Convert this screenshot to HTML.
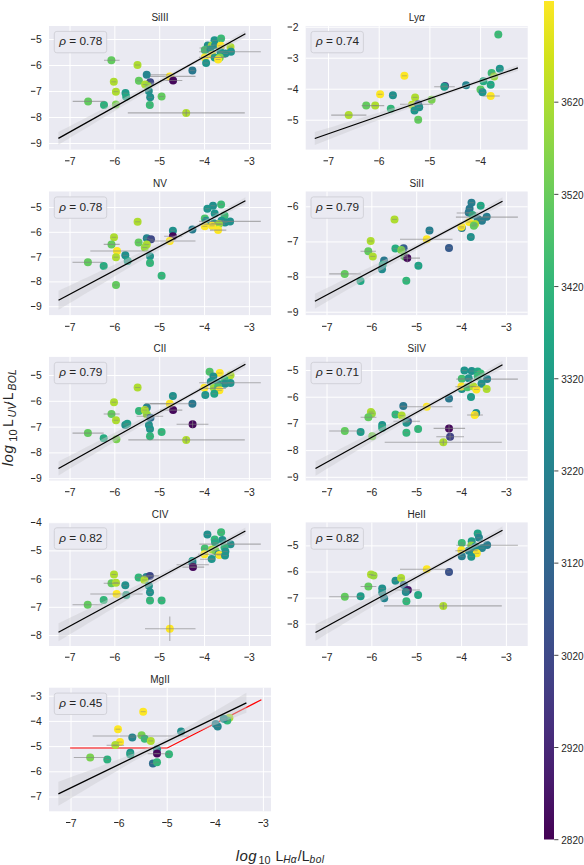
<!DOCTYPE html>
<html><head><meta charset="utf-8"><style>
html,body{margin:0;padding:0;background:#fff;}
body{width:584px;height:865px;position:relative;overflow:hidden;}
svg{font-family:"Liberation Sans", sans-serif;fill:#262626;font-size:11px;}
</style></head><body>
<svg width="584" height="865" viewBox="0 0 584 865" style="position:absolute;left:0;top:0"><defs><linearGradient id="cb" x1="0" y1="1" x2="0" y2="0"><stop offset="0.0000" stop-color="#440154"/><stop offset="0.0667" stop-color="#481a6c"/><stop offset="0.1333" stop-color="#472f7d"/><stop offset="0.2000" stop-color="#414487"/><stop offset="0.2667" stop-color="#39568c"/><stop offset="0.3333" stop-color="#31688e"/><stop offset="0.4000" stop-color="#2a788e"/><stop offset="0.4667" stop-color="#23888e"/><stop offset="0.5333" stop-color="#1f988b"/><stop offset="0.6000" stop-color="#22a884"/><stop offset="0.6667" stop-color="#35b779"/><stop offset="0.7333" stop-color="#54c568"/><stop offset="0.8000" stop-color="#7ad151"/><stop offset="0.8667" stop-color="#a5db36"/><stop offset="0.9333" stop-color="#d2e21b"/><stop offset="1.0000" stop-color="#fde725"/></linearGradient><clipPath id="clip0"><rect x="49" y="26" width="222" height="123.6"/></clipPath><clipPath id="clip1"><rect x="305.7" y="26" width="222" height="123.6"/></clipPath><clipPath id="clip2"><rect x="49" y="191.5" width="222" height="123.6"/></clipPath><clipPath id="clip3"><rect x="305.7" y="191.5" width="222" height="123.6"/></clipPath><clipPath id="clip4"><rect x="49" y="356.9" width="222" height="123.6"/></clipPath><clipPath id="clip5"><rect x="305.7" y="356.9" width="222" height="123.6"/></clipPath><clipPath id="clip6"><rect x="49" y="522.4" width="222" height="123.6"/></clipPath><clipPath id="clip7"><rect x="305.7" y="522.4" width="222" height="123.6"/></clipPath><clipPath id="clip8"><rect x="49" y="687.7" width="222" height="123.6"/></clipPath></defs><rect x="49" y="26" width="222" height="123.6" fill="#eaeaf2"/><text x="69.65" y="165" font-size="10.4">7</text><rect x="65" y="160.3" width="4.5" height="1" fill="#262626"/><text x="114.5" y="165" font-size="10.4">6</text><rect x="109.85" y="160.3" width="4.5" height="1" fill="#262626"/><text x="159.35" y="165" font-size="10.4">5</text><rect x="154.7" y="160.3" width="4.5" height="1" fill="#262626"/><text x="204.2" y="165" font-size="10.4">4</text><rect x="199.55" y="160.3" width="4.5" height="1" fill="#262626"/><text x="249.05" y="165" font-size="10.4">3</text><rect x="244.4" y="160.3" width="4.5" height="1" fill="#262626"/><text x="41.8" y="42.9" text-anchor="end" font-size="10.4">5</text><rect x="30.9" y="38.8" width="4.5" height="1" fill="#262626"/><text x="41.8" y="68.9" text-anchor="end" font-size="10.4">6</text><rect x="30.9" y="64.8" width="4.5" height="1" fill="#262626"/><text x="41.8" y="94.9" text-anchor="end" font-size="10.4">7</text><rect x="30.9" y="90.8" width="4.5" height="1" fill="#262626"/><text x="41.8" y="120.9" text-anchor="end" font-size="10.4">8</text><rect x="30.9" y="116.8" width="4.5" height="1" fill="#262626"/><text x="41.8" y="146.9" text-anchor="end" font-size="10.4">9</text><rect x="30.9" y="142.8" width="4.5" height="1" fill="#262626"/><g stroke="#ffffff" stroke-width="1.0"><line x1="70" y1="26" x2="70" y2="149.6"/><line x1="114.85" y1="26" x2="114.85" y2="149.6"/><line x1="159.7" y1="26" x2="159.7" y2="149.6"/><line x1="204.55" y1="26" x2="204.55" y2="149.6"/><line x1="249.4" y1="26" x2="249.4" y2="149.6"/><line x1="49" y1="39.5" x2="271" y2="39.5"/><line x1="49" y1="65.5" x2="271" y2="65.5"/><line x1="49" y1="91.5" x2="271" y2="91.5"/><line x1="49" y1="117.5" x2="271" y2="117.5"/><line x1="49" y1="143.5" x2="271" y2="143.5"/></g><text x="160" y="21.4" text-anchor="middle" font-size="10">SiIII</text><g clip-path="url(#clip0)"><circle cx="111.4" cy="60.3" r="4" fill="#63ca5f"/><circle cx="137.5" cy="65" r="4" fill="#aedc31"/><circle cx="146.7" cy="74.7" r="4" fill="#25848e"/><circle cx="138.9" cy="80.8" r="4" fill="#63ca5f"/><circle cx="113.8" cy="81.8" r="4" fill="#aedc31"/><circle cx="150.2" cy="82.3" r="4" fill="#3f4988"/><circle cx="145.1" cy="84.5" r="4" fill="#aedc31"/><circle cx="147.7" cy="86" r="4" fill="#9ad83d"/><circle cx="115.9" cy="91.7" r="4" fill="#aedc31"/><circle cx="148.8" cy="91.1" r="4" fill="#21908c"/><circle cx="125.5" cy="93.1" r="4" fill="#209c89"/><circle cx="126.2" cy="96.8" r="4" fill="#22a884"/><circle cx="150.2" cy="97.3" r="4" fill="#21908c"/><circle cx="161.6" cy="96.5" r="4" fill="#63ca5f"/><circle cx="149.8" cy="105.1" r="4" fill="#3bba76"/><circle cx="88.1" cy="101.4" r="4" fill="#63ca5f"/><circle cx="104" cy="105.1" r="4" fill="#2db17d"/><circle cx="115.9" cy="104.4" r="4" fill="#7ad151"/><circle cx="186.2" cy="112.9" r="4" fill="#aedc31"/><circle cx="169.8" cy="76.4" r="4" fill="#fde725"/><circle cx="173.1" cy="80.5" r="4" fill="#45085b"/><circle cx="192.4" cy="70.6" r="4" fill="#2a788e"/><circle cx="214.5" cy="40.3" r="4" fill="#20958c"/><circle cx="221.1" cy="38.6" r="4" fill="#3bba76"/><circle cx="207.8" cy="45.4" r="4" fill="#21908c"/><circle cx="211.7" cy="45.8" r="4" fill="#9ad83d"/><circle cx="215.1" cy="45" r="4" fill="#21908c"/><circle cx="220.7" cy="45.8" r="4" fill="#fde725"/><circle cx="204.8" cy="50.1" r="4" fill="#44be70"/><circle cx="210.4" cy="49.7" r="4" fill="#20958c"/><circle cx="230.5" cy="47.1" r="4" fill="#aedc31"/><circle cx="231" cy="51.8" r="4" fill="#20958c"/><circle cx="225.4" cy="53.5" r="4" fill="#21908c"/><circle cx="220.7" cy="52.3" r="4" fill="#20958c"/><circle cx="204.8" cy="57.4" r="4" fill="#fde725"/><circle cx="212.1" cy="54.8" r="4" fill="#fde725"/><circle cx="214.7" cy="57.4" r="4" fill="#209c89"/><circle cx="219.8" cy="57.4" r="4" fill="#7ad151"/><circle cx="218.1" cy="59.5" r="4" fill="#fde725"/><circle cx="206.1" cy="63" r="4" fill="#20958c"/><line x1="104" y1="60.3" x2="119.6" y2="60.3" stroke="#808080" stroke-opacity="0.6" stroke-width="1.1"/><line x1="135" y1="65" x2="140" y2="65" stroke="#808080" stroke-opacity="0.55" stroke-width="0.9"/><line x1="149.8" y1="74.7" x2="175" y2="74.7" stroke="#808080" stroke-opacity="0.6" stroke-width="1.1"/><line x1="136.4" y1="80.8" x2="141.4" y2="80.8" stroke="#808080" stroke-opacity="0.55" stroke-width="0.9"/><line x1="111.3" y1="81.8" x2="116.3" y2="81.8" stroke="#808080" stroke-opacity="0.55" stroke-width="0.9"/><line x1="147.7" y1="82.3" x2="152.7" y2="82.3" stroke="#808080" stroke-opacity="0.55" stroke-width="0.9"/><line x1="142.6" y1="84.5" x2="147.6" y2="84.5" stroke="#808080" stroke-opacity="0.55" stroke-width="0.9"/><line x1="145.2" y1="86" x2="150.2" y2="86" stroke="#808080" stroke-opacity="0.55" stroke-width="0.9"/><line x1="113.4" y1="91.7" x2="118.4" y2="91.7" stroke="#808080" stroke-opacity="0.55" stroke-width="0.9"/><line x1="146.3" y1="91.1" x2="151.3" y2="91.1" stroke="#808080" stroke-opacity="0.55" stroke-width="0.9"/><line x1="123" y1="93.1" x2="128" y2="93.1" stroke="#808080" stroke-opacity="0.55" stroke-width="0.9"/><line x1="123.7" y1="96.8" x2="128.7" y2="96.8" stroke="#808080" stroke-opacity="0.55" stroke-width="0.9"/><line x1="147.7" y1="97.3" x2="152.7" y2="97.3" stroke="#808080" stroke-opacity="0.55" stroke-width="0.9"/><line x1="159.1" y1="96.5" x2="164.1" y2="96.5" stroke="#808080" stroke-opacity="0.55" stroke-width="0.9"/><line x1="147.3" y1="105.1" x2="152.3" y2="105.1" stroke="#808080" stroke-opacity="0.55" stroke-width="0.9"/><line x1="72.7" y1="101.4" x2="104.6" y2="101.4" stroke="#808080" stroke-opacity="0.6" stroke-width="1.1"/><line x1="101.5" y1="105.1" x2="106.5" y2="105.1" stroke="#808080" stroke-opacity="0.55" stroke-width="0.9"/><line x1="113.4" y1="104.4" x2="118.4" y2="104.4" stroke="#808080" stroke-opacity="0.55" stroke-width="0.9"/><line x1="127.8" y1="112.9" x2="244.8" y2="112.9" stroke="#808080" stroke-opacity="0.6" stroke-width="1.1"/><line x1="186.2" y1="109.9" x2="186.2" y2="115.9" stroke="#808080" stroke-opacity="0.6" stroke-width="1.1"/><line x1="150" y1="76.4" x2="195.5" y2="76.4" stroke="#808080" stroke-opacity="0.6" stroke-width="1.1"/><line x1="160" y1="80.5" x2="182.3" y2="80.5" stroke="#808080" stroke-opacity="0.6" stroke-width="1.1"/><line x1="189.9" y1="70.6" x2="194.9" y2="70.6" stroke="#808080" stroke-opacity="0.55" stroke-width="0.9"/><line x1="212" y1="40.3" x2="217" y2="40.3" stroke="#808080" stroke-opacity="0.55" stroke-width="0.9"/><line x1="218.6" y1="38.6" x2="223.6" y2="38.6" stroke="#808080" stroke-opacity="0.55" stroke-width="0.9"/><line x1="205.3" y1="45.4" x2="210.3" y2="45.4" stroke="#808080" stroke-opacity="0.55" stroke-width="0.9"/><line x1="209.2" y1="45.8" x2="214.2" y2="45.8" stroke="#808080" stroke-opacity="0.55" stroke-width="0.9"/><line x1="212.6" y1="45" x2="217.6" y2="45" stroke="#808080" stroke-opacity="0.55" stroke-width="0.9"/><line x1="218.2" y1="45.8" x2="223.2" y2="45.8" stroke="#808080" stroke-opacity="0.55" stroke-width="0.9"/><line x1="202.3" y1="50.1" x2="207.3" y2="50.1" stroke="#808080" stroke-opacity="0.55" stroke-width="0.9"/><line x1="207.9" y1="49.7" x2="212.9" y2="49.7" stroke="#808080" stroke-opacity="0.55" stroke-width="0.9"/><line x1="228" y1="47.1" x2="233" y2="47.1" stroke="#808080" stroke-opacity="0.55" stroke-width="0.9"/><line x1="228.5" y1="51.8" x2="233.5" y2="51.8" stroke="#808080" stroke-opacity="0.55" stroke-width="0.9"/><line x1="222.9" y1="53.5" x2="227.9" y2="53.5" stroke="#808080" stroke-opacity="0.55" stroke-width="0.9"/><line x1="218.2" y1="52.3" x2="223.2" y2="52.3" stroke="#808080" stroke-opacity="0.55" stroke-width="0.9"/><line x1="202.3" y1="57.4" x2="207.3" y2="57.4" stroke="#808080" stroke-opacity="0.55" stroke-width="0.9"/><line x1="209.6" y1="54.8" x2="214.6" y2="54.8" stroke="#808080" stroke-opacity="0.55" stroke-width="0.9"/><line x1="212.2" y1="57.4" x2="217.2" y2="57.4" stroke="#808080" stroke-opacity="0.55" stroke-width="0.9"/><line x1="217.3" y1="57.4" x2="222.3" y2="57.4" stroke="#808080" stroke-opacity="0.55" stroke-width="0.9"/><line x1="215.6" y1="59.5" x2="220.6" y2="59.5" stroke="#808080" stroke-opacity="0.55" stroke-width="0.9"/><line x1="203.6" y1="63" x2="208.6" y2="63" stroke="#808080" stroke-opacity="0.55" stroke-width="0.9"/><line x1="199.5" y1="48" x2="225" y2="48" stroke="#808080" stroke-opacity="0.6" stroke-width="1.1"/><line x1="198.9" y1="57.4" x2="225.9" y2="57.4" stroke="#808080" stroke-opacity="0.6" stroke-width="1.1"/><line x1="199.2" y1="51.7" x2="260.8" y2="51.7" stroke="#808080" stroke-opacity="0.6" stroke-width="1.1"/><polygon points="58.4,132 63.07,129.58 67.75,127.16 72.42,124.74 77.1,122.31 81.78,119.89 86.45,117.47 91.12,115.04 95.8,112.62 100.47,110.19 105.15,107.76 109.82,105.33 114.5,102.9 119.17,100.46 123.85,98.03 128.53,95.59 133.2,93.15 137.88,90.7 142.55,88.26 147.22,85.8 151.9,83.34 156.57,80.88 161.25,78.41 165.93,75.93 170.6,73.43 175.28,70.93 179.95,68.41 184.62,65.88 189.3,63.32 193.97,60.75 198.65,58.15 203.33,55.52 208,52.84 212.68,50.12 217.35,47.36 222.03,44.56 226.7,41.74 231.38,38.9 236.05,36.04 240.72,33.18 245.4,30.3 245.4,37.3 240.72,39.65 236.05,42.02 231.38,44.39 226.7,46.78 222.03,49.19 217.35,51.62 212.68,54.09 208,56.6 203.33,59.15 198.65,61.75 193.97,64.38 189.3,67.04 184.62,69.71 179.95,72.41 175.28,75.12 170.6,77.85 165.93,80.58 161.25,83.33 156.57,86.09 151.9,88.86 147.22,91.63 142.55,94.4 137.88,97.19 133.2,99.97 128.53,102.76 123.85,105.55 119.17,108.35 114.5,111.14 109.82,113.94 105.15,116.74 100.47,119.54 95.8,122.34 91.12,125.15 86.45,127.95 81.78,130.76 77.1,133.57 72.42,136.37 67.75,139.18 63.07,141.99 58.4,144.8" fill="#cdcdd0" fill-opacity="0.45"/><line x1="58.4" y1="138.4" x2="245.4" y2="33.8" stroke="#000" stroke-width="1.3"/></g><rect x="54.3" y="31.4" width="52.4" height="21.4" rx="2.5" fill="#eaeaf2" stroke="#cfcfd6" stroke-width="0.9"/><text x="59.2" y="45.2" font-size="11.8"><tspan font-style="italic">ρ</tspan> = 0.78</text><rect x="305.7" y="26" width="222" height="123.6" fill="#eaeaf2"/><text x="328.15" y="165" font-size="10.4">7</text><rect x="323.5" y="160.3" width="4.5" height="1" fill="#262626"/><text x="378.85" y="165" font-size="10.4">6</text><rect x="374.2" y="160.3" width="4.5" height="1" fill="#262626"/><text x="429.55" y="165" font-size="10.4">5</text><rect x="424.9" y="160.3" width="4.5" height="1" fill="#262626"/><text x="480.25" y="165" font-size="10.4">4</text><rect x="475.6" y="160.3" width="4.5" height="1" fill="#262626"/><text x="298.5" y="30.6" text-anchor="end" font-size="10.4">2</text><rect x="287.6" y="26.5" width="4.5" height="1" fill="#262626"/><text x="298.5" y="61.6" text-anchor="end" font-size="10.4">3</text><rect x="287.6" y="57.5" width="4.5" height="1" fill="#262626"/><text x="298.5" y="92.6" text-anchor="end" font-size="10.4">4</text><rect x="287.6" y="88.5" width="4.5" height="1" fill="#262626"/><text x="298.5" y="123.6" text-anchor="end" font-size="10.4">5</text><rect x="287.6" y="119.5" width="4.5" height="1" fill="#262626"/><g stroke="#ffffff" stroke-width="1.0"><line x1="328.5" y1="26" x2="328.5" y2="149.6"/><line x1="379.2" y1="26" x2="379.2" y2="149.6"/><line x1="429.9" y1="26" x2="429.9" y2="149.6"/><line x1="480.6" y1="26" x2="480.6" y2="149.6"/><line x1="305.7" y1="27.2" x2="527.7" y2="27.2"/><line x1="305.7" y1="58.2" x2="527.7" y2="58.2"/><line x1="305.7" y1="89.2" x2="527.7" y2="89.2"/><line x1="305.7" y1="120.2" x2="527.7" y2="120.2"/></g><text x="416.7" y="21.4" text-anchor="middle" font-size="10">Ly<tspan font-style="italic">α</tspan></text><g clip-path="url(#clip1)"><circle cx="404.4" cy="75.8" r="4" fill="#fde725"/><circle cx="380.1" cy="94.3" r="4" fill="#fde725"/><circle cx="392.9" cy="95.3" r="4" fill="#21908c"/><circle cx="415.1" cy="97.4" r="4" fill="#aedc31"/><circle cx="366.2" cy="105.6" r="4" fill="#63ca5f"/><circle cx="375.2" cy="105.6" r="4" fill="#aedc31"/><circle cx="390.8" cy="108.7" r="4" fill="#33b67a"/><circle cx="348.7" cy="115.1" r="4" fill="#aedc31"/><circle cx="412" cy="104.8" r="4" fill="#bcde28"/><circle cx="418.2" cy="104.2" r="4" fill="#3f4988"/><circle cx="419.2" cy="107.3" r="4" fill="#21908c"/><circle cx="414.5" cy="110.4" r="4" fill="#20958c"/><circle cx="418.2" cy="119.7" r="4" fill="#63ca5f"/><circle cx="498.3" cy="34.4" r="4" fill="#3bba76"/><circle cx="499.8" cy="68.7" r="4" fill="#20958c"/><circle cx="491.6" cy="73" r="4" fill="#3bba76"/><circle cx="494.2" cy="76.5" r="4" fill="#9ad83d"/><circle cx="483.4" cy="81.2" r="4" fill="#28ac81"/><circle cx="490.7" cy="84.7" r="4" fill="#22a884"/><circle cx="480.5" cy="89.4" r="4" fill="#5ec862"/><circle cx="482.5" cy="92.3" r="4" fill="#20958c"/><circle cx="490.7" cy="96" r="4" fill="#fde725"/><circle cx="466.1" cy="85.3" r="4" fill="#25848e"/><circle cx="445" cy="86" r="4" fill="#3f4988"/><circle cx="444.3" cy="86.8" r="4" fill="#209c89"/><circle cx="431.6" cy="99.7" r="4" fill="#7ad151"/><line x1="401.9" y1="75.8" x2="406.9" y2="75.8" stroke="#808080" stroke-opacity="0.55" stroke-width="0.9"/><line x1="377.6" y1="94.3" x2="382.6" y2="94.3" stroke="#808080" stroke-opacity="0.55" stroke-width="0.9"/><line x1="390.4" y1="95.3" x2="395.4" y2="95.3" stroke="#808080" stroke-opacity="0.55" stroke-width="0.9"/><line x1="412.6" y1="97.4" x2="417.6" y2="97.4" stroke="#808080" stroke-opacity="0.55" stroke-width="0.9"/><line x1="361.6" y1="105.6" x2="384.2" y2="105.6" stroke="#808080" stroke-opacity="0.6" stroke-width="1.1"/><line x1="372.7" y1="105.6" x2="377.7" y2="105.6" stroke="#808080" stroke-opacity="0.55" stroke-width="0.9"/><line x1="388.3" y1="108.7" x2="393.3" y2="108.7" stroke="#808080" stroke-opacity="0.55" stroke-width="0.9"/><line x1="331.2" y1="115.1" x2="366.4" y2="115.1" stroke="#808080" stroke-opacity="0.6" stroke-width="1.1"/><line x1="400" y1="104.2" x2="433" y2="104.2" stroke="#808080" stroke-opacity="0.6" stroke-width="1.1"/><line x1="409.5" y1="104.8" x2="414.5" y2="104.8" stroke="#808080" stroke-opacity="0.55" stroke-width="0.9"/><line x1="415.7" y1="104.2" x2="420.7" y2="104.2" stroke="#808080" stroke-opacity="0.55" stroke-width="0.9"/><line x1="416.7" y1="107.3" x2="421.7" y2="107.3" stroke="#808080" stroke-opacity="0.55" stroke-width="0.9"/><line x1="412" y1="110.4" x2="417" y2="110.4" stroke="#808080" stroke-opacity="0.55" stroke-width="0.9"/><line x1="415.7" y1="119.7" x2="420.7" y2="119.7" stroke="#808080" stroke-opacity="0.55" stroke-width="0.9"/><line x1="495.8" y1="34.4" x2="500.8" y2="34.4" stroke="#808080" stroke-opacity="0.55" stroke-width="0.9"/><line x1="497.3" y1="68.7" x2="502.3" y2="68.7" stroke="#808080" stroke-opacity="0.55" stroke-width="0.9"/><line x1="489.1" y1="73" x2="494.1" y2="73" stroke="#808080" stroke-opacity="0.55" stroke-width="0.9"/><line x1="491.7" y1="76.5" x2="496.7" y2="76.5" stroke="#808080" stroke-opacity="0.55" stroke-width="0.9"/><line x1="480.9" y1="81.2" x2="485.9" y2="81.2" stroke="#808080" stroke-opacity="0.55" stroke-width="0.9"/><line x1="488.2" y1="84.7" x2="493.2" y2="84.7" stroke="#808080" stroke-opacity="0.55" stroke-width="0.9"/><line x1="478" y1="89.4" x2="483" y2="89.4" stroke="#808080" stroke-opacity="0.55" stroke-width="0.9"/><line x1="480" y1="92.3" x2="485" y2="92.3" stroke="#808080" stroke-opacity="0.55" stroke-width="0.9"/><line x1="482.9" y1="96" x2="499.8" y2="96" stroke="#808080" stroke-opacity="0.6" stroke-width="1.1"/><line x1="463.6" y1="85.3" x2="468.6" y2="85.3" stroke="#808080" stroke-opacity="0.55" stroke-width="0.9"/><line x1="442.5" y1="86" x2="447.5" y2="86" stroke="#808080" stroke-opacity="0.55" stroke-width="0.9"/><line x1="434.2" y1="86.8" x2="454.8" y2="86.8" stroke="#808080" stroke-opacity="0.6" stroke-width="1.1"/><line x1="429.1" y1="99.7" x2="434.1" y2="99.7" stroke="#808080" stroke-opacity="0.55" stroke-width="0.9"/><polygon points="314.8,132.1 319.88,130.56 324.95,129.01 330.03,127.47 335.11,125.92 340.19,124.37 345.26,122.82 350.34,121.27 355.42,119.72 360.5,118.17 365.57,116.61 370.65,115.06 375.73,113.5 380.81,111.93 385.88,110.37 390.96,108.8 396.04,107.22 401.12,105.64 406.19,104.05 411.27,102.45 416.35,100.84 421.43,99.22 426.5,97.58 431.58,95.92 436.66,94.24 441.74,92.54 446.81,90.8 451.89,89.04 456.97,87.26 462.05,85.47 467.12,83.65 472.2,81.82 477.28,79.98 482.36,78.12 487.43,76.26 492.51,74.38 497.59,72.5 502.67,70.61 507.75,68.71 512.82,66.81 517.9,64.9 517.9,70.9 512.82,72.52 507.75,74.15 502.67,75.78 497.59,77.42 492.51,79.07 487.43,80.72 482.36,82.39 477.28,84.06 472.2,85.75 467.12,87.45 462.05,89.16 456.97,90.9 451.89,92.65 446.81,94.42 441.74,96.21 436.66,98.04 431.58,99.89 426.5,101.76 421.43,103.65 416.35,105.56 411.27,107.48 406.19,109.41 401.12,111.35 396.04,113.3 390.96,115.25 385.88,117.21 380.81,119.18 375.73,121.14 370.65,123.11 365.57,125.09 360.5,127.06 355.42,129.04 350.34,131.02 345.26,133 340.19,134.98 335.11,136.96 330.03,138.94 324.95,140.93 319.88,142.91 314.8,144.9" fill="#cdcdd0" fill-opacity="0.45"/><line x1="314.8" y1="138.5" x2="517.9" y2="67.9" stroke="#000" stroke-width="1.3"/></g><rect x="311" y="31.4" width="52.4" height="21.4" rx="2.5" fill="#eaeaf2" stroke="#cfcfd6" stroke-width="0.9"/><text x="315.9" y="45.2" font-size="11.8"><tspan font-style="italic">ρ</tspan> = 0.74</text><rect x="49" y="191.5" width="222" height="123.6" fill="#eaeaf2"/><text x="69.65" y="330.5" font-size="10.4">7</text><rect x="65" y="325.8" width="4.5" height="1" fill="#262626"/><text x="114.5" y="330.5" font-size="10.4">6</text><rect x="109.85" y="325.8" width="4.5" height="1" fill="#262626"/><text x="159.35" y="330.5" font-size="10.4">5</text><rect x="154.7" y="325.8" width="4.5" height="1" fill="#262626"/><text x="204.2" y="330.5" font-size="10.4">4</text><rect x="199.55" y="325.8" width="4.5" height="1" fill="#262626"/><text x="249.05" y="330.5" font-size="10.4">3</text><rect x="244.4" y="325.8" width="4.5" height="1" fill="#262626"/><text x="41.8" y="210.9" text-anchor="end" font-size="10.4">5</text><rect x="30.9" y="206.8" width="4.5" height="1" fill="#262626"/><text x="41.8" y="235.7" text-anchor="end" font-size="10.4">6</text><rect x="30.9" y="231.6" width="4.5" height="1" fill="#262626"/><text x="41.8" y="260.5" text-anchor="end" font-size="10.4">7</text><rect x="30.9" y="256.4" width="4.5" height="1" fill="#262626"/><text x="41.8" y="285.3" text-anchor="end" font-size="10.4">8</text><rect x="30.9" y="281.2" width="4.5" height="1" fill="#262626"/><text x="41.8" y="310.1" text-anchor="end" font-size="10.4">9</text><rect x="30.9" y="306" width="4.5" height="1" fill="#262626"/><g stroke="#ffffff" stroke-width="1.0"><line x1="70" y1="191.5" x2="70" y2="315.1"/><line x1="114.85" y1="191.5" x2="114.85" y2="315.1"/><line x1="159.7" y1="191.5" x2="159.7" y2="315.1"/><line x1="204.55" y1="191.5" x2="204.55" y2="315.1"/><line x1="249.4" y1="191.5" x2="249.4" y2="315.1"/><line x1="49" y1="207.5" x2="271" y2="207.5"/><line x1="49" y1="232.3" x2="271" y2="232.3"/><line x1="49" y1="257.1" x2="271" y2="257.1"/><line x1="49" y1="281.9" x2="271" y2="281.9"/><line x1="49" y1="306.7" x2="271" y2="306.7"/></g><text x="160" y="186.9" text-anchor="middle" font-size="10">NV</text><g clip-path="url(#clip2)"><circle cx="137.6" cy="221.8" r="4" fill="#aedc31"/><circle cx="114" cy="237.3" r="4" fill="#aedc31"/><circle cx="111.5" cy="244.4" r="4" fill="#63ca5f"/><circle cx="117" cy="251" r="4" fill="#fde725"/><circle cx="116" cy="257.2" r="4" fill="#aedc31"/><circle cx="125.3" cy="255.3" r="4" fill="#21908c"/><circle cx="127.7" cy="260.9" r="4" fill="#21a386"/><circle cx="87.9" cy="262.3" r="4" fill="#63ca5f"/><circle cx="103.7" cy="266" r="4" fill="#28ac81"/><circle cx="138.6" cy="242.4" r="4" fill="#63ca5f"/><circle cx="146.8" cy="238.3" r="4" fill="#25848e"/><circle cx="151" cy="239.3" r="4" fill="#3f4988"/><circle cx="146.8" cy="244.4" r="4" fill="#aedc31"/><circle cx="144.8" cy="247.5" r="4" fill="#9ad83d"/><circle cx="150" cy="256.2" r="4" fill="#20958c"/><circle cx="150" cy="263" r="4" fill="#33b67a"/><circle cx="116" cy="285" r="4" fill="#63ca5f"/><circle cx="161.6" cy="275.7" r="4" fill="#33b67a"/><circle cx="172.9" cy="230.7" r="4" fill="#21908c"/><circle cx="172.9" cy="236.2" r="4" fill="#45085b"/><circle cx="169.8" cy="241" r="4" fill="#fde725"/><circle cx="192.4" cy="229.4" r="4" fill="#287d8e"/><circle cx="221.1" cy="204.4" r="4" fill="#3bba76"/><circle cx="213" cy="205.7" r="4" fill="#21908c"/><circle cx="207.4" cy="208.7" r="4" fill="#20958c"/><circle cx="214.7" cy="213.4" r="4" fill="#20958c"/><circle cx="224.5" cy="215.5" r="4" fill="#3bba76"/><circle cx="204.8" cy="218.5" r="4" fill="#4ec26b"/><circle cx="206.1" cy="220.7" r="4" fill="#20958c"/><circle cx="221.5" cy="220.7" r="4" fill="#20958c"/><circle cx="225" cy="222.4" r="4" fill="#21908c"/><circle cx="230.1" cy="221.5" r="4" fill="#21908c"/><circle cx="213.8" cy="223.3" r="4" fill="#20958c"/><circle cx="219" cy="224.1" r="4" fill="#9ad83d"/><circle cx="204.8" cy="226.3" r="4" fill="#fde725"/><circle cx="212.1" cy="225.8" r="4" fill="#fde725"/><circle cx="218.1" cy="230.1" r="4" fill="#fde725"/><line x1="135.1" y1="221.8" x2="140.1" y2="221.8" stroke="#808080" stroke-opacity="0.55" stroke-width="0.9"/><line x1="111.5" y1="237.3" x2="116.5" y2="237.3" stroke="#808080" stroke-opacity="0.55" stroke-width="0.9"/><line x1="103.7" y1="244.4" x2="119.7" y2="244.4" stroke="#808080" stroke-opacity="0.6" stroke-width="1.1"/><line x1="90.3" y1="251" x2="150" y2="251" stroke="#808080" stroke-opacity="0.6" stroke-width="1.1"/><line x1="113.5" y1="257.2" x2="118.5" y2="257.2" stroke="#808080" stroke-opacity="0.55" stroke-width="0.9"/><line x1="122.8" y1="255.3" x2="127.8" y2="255.3" stroke="#808080" stroke-opacity="0.55" stroke-width="0.9"/><line x1="125.2" y1="260.9" x2="130.2" y2="260.9" stroke="#808080" stroke-opacity="0.55" stroke-width="0.9"/><line x1="72.5" y1="262.3" x2="102.7" y2="262.3" stroke="#808080" stroke-opacity="0.6" stroke-width="1.1"/><line x1="101.2" y1="266" x2="106.2" y2="266" stroke="#808080" stroke-opacity="0.55" stroke-width="0.9"/><line x1="136.1" y1="242.4" x2="141.1" y2="242.4" stroke="#808080" stroke-opacity="0.55" stroke-width="0.9"/><line x1="144.3" y1="238.3" x2="149.3" y2="238.3" stroke="#808080" stroke-opacity="0.55" stroke-width="0.9"/><line x1="148.5" y1="239.3" x2="153.5" y2="239.3" stroke="#808080" stroke-opacity="0.55" stroke-width="0.9"/><line x1="144.3" y1="244.4" x2="149.3" y2="244.4" stroke="#808080" stroke-opacity="0.55" stroke-width="0.9"/><line x1="142.3" y1="247.5" x2="147.3" y2="247.5" stroke="#808080" stroke-opacity="0.55" stroke-width="0.9"/><line x1="147.5" y1="256.2" x2="152.5" y2="256.2" stroke="#808080" stroke-opacity="0.55" stroke-width="0.9"/><line x1="147.5" y1="263" x2="152.5" y2="263" stroke="#808080" stroke-opacity="0.55" stroke-width="0.9"/><line x1="113.5" y1="285" x2="118.5" y2="285" stroke="#808080" stroke-opacity="0.55" stroke-width="0.9"/><line x1="159.1" y1="275.7" x2="164.1" y2="275.7" stroke="#808080" stroke-opacity="0.55" stroke-width="0.9"/><line x1="170.4" y1="230.7" x2="175.4" y2="230.7" stroke="#808080" stroke-opacity="0.55" stroke-width="0.9"/><line x1="164.2" y1="236.2" x2="182.3" y2="236.2" stroke="#808080" stroke-opacity="0.6" stroke-width="1.1"/><line x1="150" y1="241" x2="195.5" y2="241" stroke="#808080" stroke-opacity="0.6" stroke-width="1.1"/><line x1="189.9" y1="229.4" x2="194.9" y2="229.4" stroke="#808080" stroke-opacity="0.55" stroke-width="0.9"/><line x1="218.6" y1="204.4" x2="223.6" y2="204.4" stroke="#808080" stroke-opacity="0.55" stroke-width="0.9"/><line x1="210.5" y1="205.7" x2="215.5" y2="205.7" stroke="#808080" stroke-opacity="0.55" stroke-width="0.9"/><line x1="204.9" y1="208.7" x2="209.9" y2="208.7" stroke="#808080" stroke-opacity="0.55" stroke-width="0.9"/><line x1="212.2" y1="213.4" x2="217.2" y2="213.4" stroke="#808080" stroke-opacity="0.55" stroke-width="0.9"/><line x1="222" y1="215.5" x2="227" y2="215.5" stroke="#808080" stroke-opacity="0.55" stroke-width="0.9"/><line x1="202.3" y1="218.5" x2="207.3" y2="218.5" stroke="#808080" stroke-opacity="0.55" stroke-width="0.9"/><line x1="203.6" y1="220.7" x2="208.6" y2="220.7" stroke="#808080" stroke-opacity="0.55" stroke-width="0.9"/><line x1="219" y1="220.7" x2="224" y2="220.7" stroke="#808080" stroke-opacity="0.55" stroke-width="0.9"/><line x1="222.5" y1="222.4" x2="227.5" y2="222.4" stroke="#808080" stroke-opacity="0.55" stroke-width="0.9"/><line x1="227.6" y1="221.5" x2="232.6" y2="221.5" stroke="#808080" stroke-opacity="0.55" stroke-width="0.9"/><line x1="211.3" y1="223.3" x2="216.3" y2="223.3" stroke="#808080" stroke-opacity="0.55" stroke-width="0.9"/><line x1="216.5" y1="224.1" x2="221.5" y2="224.1" stroke="#808080" stroke-opacity="0.55" stroke-width="0.9"/><line x1="202.3" y1="226.3" x2="207.3" y2="226.3" stroke="#808080" stroke-opacity="0.55" stroke-width="0.9"/><line x1="209.6" y1="225.8" x2="214.6" y2="225.8" stroke="#808080" stroke-opacity="0.55" stroke-width="0.9"/><line x1="210" y1="230.1" x2="226.3" y2="230.1" stroke="#808080" stroke-opacity="0.6" stroke-width="1.1"/><line x1="199.3" y1="224.1" x2="225" y2="224.1" stroke="#808080" stroke-opacity="0.6" stroke-width="1.1"/><line x1="199.2" y1="221.4" x2="260.8" y2="221.4" stroke="#808080" stroke-opacity="0.6" stroke-width="1.1"/><polygon points="58.5,290.8 63.17,288.61 67.84,286.42 72.52,284.23 77.19,282.04 81.86,279.84 86.53,277.65 91.21,275.45 95.88,273.26 100.55,271.06 105.22,268.87 109.9,266.67 114.57,264.47 119.24,262.26 123.91,260.06 128.59,257.85 133.26,255.64 137.93,253.43 142.61,251.21 147.28,248.99 151.95,246.77 156.62,244.53 161.3,242.29 165.97,240.03 170.64,237.76 175.31,235.48 179.99,233.17 184.66,230.83 189.33,228.46 194,226.05 198.68,223.6 203.35,221.1 208.02,218.56 212.69,215.97 217.37,213.36 222.04,210.71 226.71,208.04 231.38,205.35 236.06,202.65 240.73,199.93 245.4,197.2 245.4,204.2 240.73,206.45 236.06,208.71 231.38,210.99 226.71,213.28 222.04,215.59 217.37,217.92 212.69,220.29 208.02,222.68 203.35,225.12 198.68,227.6 194,230.13 189.33,232.7 184.66,235.31 179.99,237.95 175.31,240.62 170.64,243.32 165.97,246.03 161.3,248.75 156.62,251.49 151.95,254.23 147.28,256.99 142.61,259.75 137.93,262.51 133.26,265.28 128.59,268.05 123.91,270.82 119.24,273.6 114.57,276.37 109.9,279.15 105.22,281.93 100.55,284.72 95.88,287.5 91.21,290.29 86.53,293.07 81.86,295.86 77.19,298.64 72.52,301.43 67.84,304.22 63.17,307.01 58.5,309.8" fill="#cdcdd0" fill-opacity="0.45"/><line x1="58.5" y1="300.3" x2="245.4" y2="200.7" stroke="#000" stroke-width="1.3"/></g><rect x="54.3" y="196.9" width="52.4" height="21.4" rx="2.5" fill="#eaeaf2" stroke="#cfcfd6" stroke-width="0.9"/><text x="59.2" y="210.7" font-size="11.8"><tspan font-style="italic">ρ</tspan> = 0.78</text><rect x="305.7" y="191.5" width="222" height="123.6" fill="#eaeaf2"/><text x="326.65" y="330.5" font-size="10.4">7</text><rect x="322" y="325.8" width="4.5" height="1" fill="#262626"/><text x="371.5" y="330.5" font-size="10.4">6</text><rect x="366.85" y="325.8" width="4.5" height="1" fill="#262626"/><text x="416.35" y="330.5" font-size="10.4">5</text><rect x="411.7" y="325.8" width="4.5" height="1" fill="#262626"/><text x="461.2" y="330.5" font-size="10.4">4</text><rect x="456.55" y="325.8" width="4.5" height="1" fill="#262626"/><text x="506.05" y="330.5" font-size="10.4">3</text><rect x="501.4" y="325.8" width="4.5" height="1" fill="#262626"/><text x="298.5" y="210.2" text-anchor="end" font-size="10.4">6</text><rect x="287.6" y="206.1" width="4.5" height="1" fill="#262626"/><text x="298.5" y="245.33" text-anchor="end" font-size="10.4">7</text><rect x="287.6" y="241.23" width="4.5" height="1" fill="#262626"/><text x="298.5" y="280.46" text-anchor="end" font-size="10.4">8</text><rect x="287.6" y="276.36" width="4.5" height="1" fill="#262626"/><text x="298.5" y="315.59" text-anchor="end" font-size="10.4">9</text><rect x="287.6" y="311.49" width="4.5" height="1" fill="#262626"/><g stroke="#ffffff" stroke-width="1.0"><line x1="327" y1="191.5" x2="327" y2="315.1"/><line x1="371.85" y1="191.5" x2="371.85" y2="315.1"/><line x1="416.7" y1="191.5" x2="416.7" y2="315.1"/><line x1="461.55" y1="191.5" x2="461.55" y2="315.1"/><line x1="506.4" y1="191.5" x2="506.4" y2="315.1"/><line x1="305.7" y1="206.8" x2="527.7" y2="206.8"/><line x1="305.7" y1="241.93" x2="527.7" y2="241.93"/><line x1="305.7" y1="277.06" x2="527.7" y2="277.06"/><line x1="305.7" y1="312.19" x2="527.7" y2="312.19"/></g><text x="416.7" y="186.9" text-anchor="middle" font-size="10">SiII</text><g clip-path="url(#clip3)"><circle cx="394.5" cy="219.4" r="4" fill="#aedc31"/><circle cx="370.7" cy="241" r="4" fill="#aedc31"/><circle cx="368.3" cy="251.3" r="4" fill="#63ca5f"/><circle cx="372.8" cy="256.4" r="4" fill="#aedc31"/><circle cx="395.4" cy="248.6" r="4" fill="#28ac81"/><circle cx="403.6" cy="248.2" r="4" fill="#355f8d"/><circle cx="401.2" cy="249.9" r="4" fill="#7ad151"/><circle cx="404.7" cy="256.4" r="4" fill="#5ec862"/><circle cx="407.3" cy="258.1" r="4" fill="#45085b"/><circle cx="384.1" cy="260.5" r="4" fill="#2a788e"/><circle cx="382.7" cy="264.7" r="4" fill="#21a386"/><circle cx="382" cy="269.2" r="4" fill="#228b8d"/><circle cx="344.7" cy="273.9" r="4" fill="#63ca5f"/><circle cx="360.5" cy="281.1" r="4" fill="#22a884"/><circle cx="418.4" cy="265.7" r="4" fill="#21a386"/><circle cx="406.3" cy="280.7" r="4" fill="#33b67a"/><circle cx="471.5" cy="202.7" r="4" fill="#287d8e"/><circle cx="480.7" cy="205.7" r="4" fill="#22a884"/><circle cx="469.6" cy="208.7" r="4" fill="#2a788e"/><circle cx="468.7" cy="212.6" r="4" fill="#2a788e"/><circle cx="472.5" cy="215.1" r="4" fill="#28ac81"/><circle cx="486.7" cy="216.8" r="4" fill="#287d8e"/><circle cx="477.7" cy="219" r="4" fill="#287d8e"/><circle cx="482" cy="220.7" r="4" fill="#287d8e"/><circle cx="461.8" cy="228" r="4" fill="#2a788e"/><circle cx="461.4" cy="226.7" r="4" fill="#fde725"/><circle cx="469.1" cy="222" r="4" fill="#fde725"/><circle cx="475.1" cy="224.1" r="4" fill="#bcde28"/><circle cx="473.8" cy="225.8" r="4" fill="#63ca5f"/><circle cx="470.8" cy="237" r="4" fill="#21908c"/><circle cx="429.5" cy="230.5" r="4" fill="#287d8e"/><circle cx="426.8" cy="239.3" r="4" fill="#fde725"/><circle cx="449" cy="247.9" r="4" fill="#375a8c"/><line x1="392" y1="219.4" x2="397" y2="219.4" stroke="#808080" stroke-opacity="0.55" stroke-width="0.9"/><line x1="368.2" y1="241" x2="373.2" y2="241" stroke="#808080" stroke-opacity="0.55" stroke-width="0.9"/><line x1="360.5" y1="251.3" x2="375.9" y2="251.3" stroke="#808080" stroke-opacity="0.6" stroke-width="1.1"/><line x1="370.3" y1="256.4" x2="375.3" y2="256.4" stroke="#808080" stroke-opacity="0.55" stroke-width="0.9"/><line x1="392.9" y1="248.6" x2="397.9" y2="248.6" stroke="#808080" stroke-opacity="0.55" stroke-width="0.9"/><line x1="401.1" y1="248.2" x2="406.1" y2="248.2" stroke="#808080" stroke-opacity="0.55" stroke-width="0.9"/><line x1="398.7" y1="249.9" x2="403.7" y2="249.9" stroke="#808080" stroke-opacity="0.55" stroke-width="0.9"/><line x1="402.2" y1="256.4" x2="407.2" y2="256.4" stroke="#808080" stroke-opacity="0.55" stroke-width="0.9"/><line x1="400" y1="258.1" x2="420" y2="258.1" stroke="#808080" stroke-opacity="0.6" stroke-width="1.1"/><line x1="407.3" y1="253.5" x2="407.3" y2="262.7" stroke="#808080" stroke-opacity="0.6" stroke-width="1.1"/><line x1="381.6" y1="260.5" x2="386.6" y2="260.5" stroke="#808080" stroke-opacity="0.55" stroke-width="0.9"/><line x1="380.2" y1="264.7" x2="385.2" y2="264.7" stroke="#808080" stroke-opacity="0.55" stroke-width="0.9"/><line x1="379.5" y1="269.2" x2="384.5" y2="269.2" stroke="#808080" stroke-opacity="0.55" stroke-width="0.9"/><line x1="329.2" y1="273.9" x2="360.9" y2="273.9" stroke="#808080" stroke-opacity="0.6" stroke-width="1.1"/><line x1="358" y1="281.1" x2="363" y2="281.1" stroke="#808080" stroke-opacity="0.55" stroke-width="0.9"/><line x1="415.9" y1="265.7" x2="420.9" y2="265.7" stroke="#808080" stroke-opacity="0.55" stroke-width="0.9"/><line x1="403.8" y1="280.7" x2="408.8" y2="280.7" stroke="#808080" stroke-opacity="0.55" stroke-width="0.9"/><line x1="469" y1="202.7" x2="474" y2="202.7" stroke="#808080" stroke-opacity="0.55" stroke-width="0.9"/><line x1="478.2" y1="205.7" x2="483.2" y2="205.7" stroke="#808080" stroke-opacity="0.55" stroke-width="0.9"/><line x1="467.1" y1="208.7" x2="472.1" y2="208.7" stroke="#808080" stroke-opacity="0.55" stroke-width="0.9"/><line x1="466.2" y1="212.6" x2="471.2" y2="212.6" stroke="#808080" stroke-opacity="0.55" stroke-width="0.9"/><line x1="470" y1="215.1" x2="475" y2="215.1" stroke="#808080" stroke-opacity="0.55" stroke-width="0.9"/><line x1="484.2" y1="216.8" x2="489.2" y2="216.8" stroke="#808080" stroke-opacity="0.55" stroke-width="0.9"/><line x1="475.2" y1="219" x2="480.2" y2="219" stroke="#808080" stroke-opacity="0.55" stroke-width="0.9"/><line x1="479.5" y1="220.7" x2="484.5" y2="220.7" stroke="#808080" stroke-opacity="0.55" stroke-width="0.9"/><line x1="459.3" y1="228" x2="464.3" y2="228" stroke="#808080" stroke-opacity="0.55" stroke-width="0.9"/><line x1="458.9" y1="226.7" x2="463.9" y2="226.7" stroke="#808080" stroke-opacity="0.55" stroke-width="0.9"/><line x1="466.6" y1="222" x2="471.6" y2="222" stroke="#808080" stroke-opacity="0.55" stroke-width="0.9"/><line x1="472.6" y1="224.1" x2="477.6" y2="224.1" stroke="#808080" stroke-opacity="0.55" stroke-width="0.9"/><line x1="471.3" y1="225.8" x2="476.3" y2="225.8" stroke="#808080" stroke-opacity="0.55" stroke-width="0.9"/><line x1="468.3" y1="237" x2="473.3" y2="237" stroke="#808080" stroke-opacity="0.55" stroke-width="0.9"/><line x1="456.7" y1="213" x2="478" y2="213" stroke="#808080" stroke-opacity="0.6" stroke-width="1.1"/><line x1="455.9" y1="217.1" x2="517.9" y2="217.1" stroke="#808080" stroke-opacity="0.6" stroke-width="1.1"/><line x1="427" y1="230.5" x2="432" y2="230.5" stroke="#808080" stroke-opacity="0.55" stroke-width="0.9"/><line x1="400" y1="239.3" x2="452.5" y2="239.3" stroke="#808080" stroke-opacity="0.6" stroke-width="1.1"/><line x1="446.5" y1="247.9" x2="451.5" y2="247.9" stroke="#808080" stroke-opacity="0.55" stroke-width="0.9"/><polygon points="314.9,293.7 319.59,291.44 324.28,289.17 328.97,286.9 333.66,284.64 338.35,282.37 343.04,280.1 347.73,277.83 352.42,275.56 357.11,273.29 361.8,271.02 366.49,268.74 371.18,266.47 375.87,264.19 380.56,261.9 385.25,259.62 389.94,257.33 394.63,255.04 399.32,252.74 404.01,250.44 408.7,248.13 413.39,245.82 418.08,243.49 422.77,241.16 427.46,238.81 432.15,236.44 436.84,234.06 441.53,231.65 446.22,229.22 450.91,226.76 455.6,224.27 460.29,221.74 464.98,219.15 469.67,216.51 474.36,213.84 479.05,211.13 483.74,208.39 488.43,205.64 493.12,202.87 497.81,200.09 502.5,197.3 502.5,205.3 497.81,207.51 493.12,209.72 488.43,211.95 483.74,214.19 479.05,216.45 474.36,218.73 469.67,221.05 464.98,223.41 460.29,225.81 455.6,228.28 450.91,230.78 446.22,233.32 441.53,235.88 436.84,238.47 432.15,241.08 427.46,243.71 422.77,246.36 418.08,249.02 413.39,251.69 408.7,254.37 404.01,257.05 399.32,259.75 394.63,262.44 389.94,265.15 385.25,267.85 380.56,270.57 375.87,273.28 371.18,275.99 366.49,278.71 361.8,281.43 357.11,284.15 352.42,286.88 347.73,289.6 343.04,292.33 338.35,295.05 333.66,297.78 328.97,300.51 324.28,303.24 319.59,305.97 314.9,308.7" fill="#cdcdd0" fill-opacity="0.45"/><line x1="314.9" y1="301.2" x2="502.5" y2="201.3" stroke="#000" stroke-width="1.3"/></g><rect x="311" y="196.9" width="52.4" height="21.4" rx="2.5" fill="#eaeaf2" stroke="#cfcfd6" stroke-width="0.9"/><text x="315.9" y="210.7" font-size="11.8"><tspan font-style="italic">ρ</tspan> = 0.79</text><rect x="49" y="356.9" width="222" height="123.6" fill="#eaeaf2"/><text x="69.65" y="495.9" font-size="10.4">7</text><rect x="65" y="491.2" width="4.5" height="1" fill="#262626"/><text x="114.5" y="495.9" font-size="10.4">6</text><rect x="109.85" y="491.2" width="4.5" height="1" fill="#262626"/><text x="159.35" y="495.9" font-size="10.4">5</text><rect x="154.7" y="491.2" width="4.5" height="1" fill="#262626"/><text x="204.2" y="495.9" font-size="10.4">4</text><rect x="199.55" y="491.2" width="4.5" height="1" fill="#262626"/><text x="249.05" y="495.9" font-size="10.4">3</text><rect x="244.4" y="491.2" width="4.5" height="1" fill="#262626"/><text x="41.8" y="378.9" text-anchor="end" font-size="10.4">5</text><rect x="30.9" y="374.8" width="4.5" height="1" fill="#262626"/><text x="41.8" y="404.7" text-anchor="end" font-size="10.4">6</text><rect x="30.9" y="400.6" width="4.5" height="1" fill="#262626"/><text x="41.8" y="430.5" text-anchor="end" font-size="10.4">7</text><rect x="30.9" y="426.4" width="4.5" height="1" fill="#262626"/><text x="41.8" y="456.3" text-anchor="end" font-size="10.4">8</text><rect x="30.9" y="452.2" width="4.5" height="1" fill="#262626"/><text x="41.8" y="482.1" text-anchor="end" font-size="10.4">9</text><rect x="30.9" y="478" width="4.5" height="1" fill="#262626"/><g stroke="#ffffff" stroke-width="1.0"><line x1="70" y1="356.9" x2="70" y2="480.5"/><line x1="114.85" y1="356.9" x2="114.85" y2="480.5"/><line x1="159.7" y1="356.9" x2="159.7" y2="480.5"/><line x1="204.55" y1="356.9" x2="204.55" y2="480.5"/><line x1="249.4" y1="356.9" x2="249.4" y2="480.5"/><line x1="49" y1="375.5" x2="271" y2="375.5"/><line x1="49" y1="401.3" x2="271" y2="401.3"/><line x1="49" y1="427.1" x2="271" y2="427.1"/><line x1="49" y1="452.9" x2="271" y2="452.9"/><line x1="49" y1="478.7" x2="271" y2="478.7"/></g><text x="160" y="352.3" text-anchor="middle" font-size="10">CII</text><g clip-path="url(#clip4)"><circle cx="137.6" cy="387.5" r="4" fill="#aedc31"/><circle cx="114" cy="402.3" r="4" fill="#aedc31"/><circle cx="111.5" cy="414" r="4" fill="#63ca5f"/><circle cx="116" cy="420.3" r="4" fill="#aedc31"/><circle cx="125.3" cy="424.9" r="4" fill="#21908c"/><circle cx="127.3" cy="423.8" r="4" fill="#209c89"/><circle cx="87.9" cy="433.1" r="4" fill="#63ca5f"/><circle cx="103.7" cy="438.2" r="4" fill="#28ac81"/><circle cx="116.4" cy="439.2" r="4" fill="#7ad151"/><circle cx="139" cy="410.9" r="4" fill="#33b67a"/><circle cx="146.8" cy="407.4" r="4" fill="#25848e"/><circle cx="144.8" cy="410.1" r="4" fill="#aedc31"/><circle cx="146.8" cy="414.6" r="4" fill="#9ad83d"/><circle cx="150.5" cy="417.7" r="4" fill="#2f6c8e"/><circle cx="148.9" cy="424.9" r="4" fill="#21908c"/><circle cx="150" cy="429" r="4" fill="#20958c"/><circle cx="150" cy="436.2" r="4" fill="#33b67a"/><circle cx="161.6" cy="432" r="4" fill="#33b67a"/><circle cx="186.2" cy="439.9" r="4" fill="#aedc31"/><circle cx="192.6" cy="424.2" r="4" fill="#45085b"/><circle cx="172.9" cy="396.1" r="4" fill="#21908c"/><circle cx="169.8" cy="403.7" r="4" fill="#fde725"/><circle cx="192.4" cy="403.7" r="4" fill="#2a788e"/><circle cx="173.1" cy="410.1" r="4" fill="#45085b"/><circle cx="209.6" cy="371.8" r="4" fill="#4ec26b"/><circle cx="219.8" cy="373.1" r="4" fill="#fde725"/><circle cx="230.5" cy="375.3" r="4" fill="#aedc31"/><circle cx="213.4" cy="376.6" r="4" fill="#21908c"/><circle cx="210.8" cy="381.7" r="4" fill="#20958c"/><circle cx="224.5" cy="379.6" r="4" fill="#3bba76"/><circle cx="217.3" cy="383" r="4" fill="#20958c"/><circle cx="225" cy="383.8" r="4" fill="#21908c"/><circle cx="230.5" cy="383" r="4" fill="#20958c"/><circle cx="204.4" cy="387.7" r="4" fill="#fde725"/><circle cx="213.8" cy="387.7" r="4" fill="#9ad83d"/><circle cx="218.1" cy="386.8" r="4" fill="#44be70"/><circle cx="219.4" cy="390.3" r="4" fill="#fde725"/><circle cx="205.3" cy="395" r="4" fill="#20958c"/><circle cx="214.3" cy="393.7" r="4" fill="#21a386"/><line x1="135.1" y1="387.5" x2="140.1" y2="387.5" stroke="#808080" stroke-opacity="0.55" stroke-width="0.9"/><line x1="111.5" y1="402.3" x2="116.5" y2="402.3" stroke="#808080" stroke-opacity="0.55" stroke-width="0.9"/><line x1="103.7" y1="414" x2="119.7" y2="414" stroke="#808080" stroke-opacity="0.6" stroke-width="1.1"/><line x1="113.5" y1="420.3" x2="118.5" y2="420.3" stroke="#808080" stroke-opacity="0.55" stroke-width="0.9"/><line x1="122.8" y1="424.9" x2="127.8" y2="424.9" stroke="#808080" stroke-opacity="0.55" stroke-width="0.9"/><line x1="124.8" y1="423.8" x2="129.8" y2="423.8" stroke="#808080" stroke-opacity="0.55" stroke-width="0.9"/><line x1="72.5" y1="433.1" x2="103.7" y2="433.1" stroke="#808080" stroke-opacity="0.6" stroke-width="1.1"/><line x1="101.2" y1="438.2" x2="106.2" y2="438.2" stroke="#808080" stroke-opacity="0.55" stroke-width="0.9"/><line x1="113.9" y1="439.2" x2="118.9" y2="439.2" stroke="#808080" stroke-opacity="0.55" stroke-width="0.9"/><line x1="136.5" y1="410.9" x2="141.5" y2="410.9" stroke="#808080" stroke-opacity="0.55" stroke-width="0.9"/><line x1="144.3" y1="407.4" x2="149.3" y2="407.4" stroke="#808080" stroke-opacity="0.55" stroke-width="0.9"/><line x1="142.3" y1="410.1" x2="147.3" y2="410.1" stroke="#808080" stroke-opacity="0.55" stroke-width="0.9"/><line x1="144.3" y1="414.6" x2="149.3" y2="414.6" stroke="#808080" stroke-opacity="0.55" stroke-width="0.9"/><line x1="148" y1="417.7" x2="153" y2="417.7" stroke="#808080" stroke-opacity="0.55" stroke-width="0.9"/><line x1="146.4" y1="424.9" x2="151.4" y2="424.9" stroke="#808080" stroke-opacity="0.55" stroke-width="0.9"/><line x1="147.5" y1="429" x2="152.5" y2="429" stroke="#808080" stroke-opacity="0.55" stroke-width="0.9"/><line x1="147.5" y1="436.2" x2="152.5" y2="436.2" stroke="#808080" stroke-opacity="0.55" stroke-width="0.9"/><line x1="144.8" y1="403.7" x2="175" y2="403.7" stroke="#808080" stroke-opacity="0.6" stroke-width="1.1"/><line x1="136.6" y1="416.2" x2="163.2" y2="416.2" stroke="#808080" stroke-opacity="0.6" stroke-width="1.1"/><line x1="159.1" y1="432" x2="164.1" y2="432" stroke="#808080" stroke-opacity="0.55" stroke-width="0.9"/><line x1="128.3" y1="439.9" x2="244.8" y2="439.9" stroke="#808080" stroke-opacity="0.6" stroke-width="1.1"/><line x1="186.2" y1="436.9" x2="186.2" y2="442.9" stroke="#808080" stroke-opacity="0.6" stroke-width="1.1"/><line x1="176.6" y1="424.2" x2="208.4" y2="424.2" stroke="#808080" stroke-opacity="0.6" stroke-width="1.1"/><line x1="192.6" y1="420.2" x2="192.6" y2="428.2" stroke="#808080" stroke-opacity="0.6" stroke-width="1.1"/><line x1="170.4" y1="396.1" x2="175.4" y2="396.1" stroke="#808080" stroke-opacity="0.55" stroke-width="0.9"/><line x1="150" y1="403.7" x2="191" y2="403.7" stroke="#808080" stroke-opacity="0.6" stroke-width="1.1"/><line x1="189.9" y1="403.7" x2="194.9" y2="403.7" stroke="#808080" stroke-opacity="0.55" stroke-width="0.9"/><line x1="160" y1="410.1" x2="182.3" y2="410.1" stroke="#808080" stroke-opacity="0.6" stroke-width="1.1"/><line x1="207.1" y1="371.8" x2="212.1" y2="371.8" stroke="#808080" stroke-opacity="0.55" stroke-width="0.9"/><line x1="217.3" y1="373.1" x2="222.3" y2="373.1" stroke="#808080" stroke-opacity="0.55" stroke-width="0.9"/><line x1="228" y1="375.3" x2="233" y2="375.3" stroke="#808080" stroke-opacity="0.55" stroke-width="0.9"/><line x1="210.9" y1="376.6" x2="215.9" y2="376.6" stroke="#808080" stroke-opacity="0.55" stroke-width="0.9"/><line x1="208.3" y1="381.7" x2="213.3" y2="381.7" stroke="#808080" stroke-opacity="0.55" stroke-width="0.9"/><line x1="222" y1="379.6" x2="227" y2="379.6" stroke="#808080" stroke-opacity="0.55" stroke-width="0.9"/><line x1="214.8" y1="383" x2="219.8" y2="383" stroke="#808080" stroke-opacity="0.55" stroke-width="0.9"/><line x1="222.5" y1="383.8" x2="227.5" y2="383.8" stroke="#808080" stroke-opacity="0.55" stroke-width="0.9"/><line x1="228" y1="383" x2="233" y2="383" stroke="#808080" stroke-opacity="0.55" stroke-width="0.9"/><line x1="201.9" y1="387.7" x2="206.9" y2="387.7" stroke="#808080" stroke-opacity="0.55" stroke-width="0.9"/><line x1="211.3" y1="387.7" x2="216.3" y2="387.7" stroke="#808080" stroke-opacity="0.55" stroke-width="0.9"/><line x1="215.6" y1="386.8" x2="220.6" y2="386.8" stroke="#808080" stroke-opacity="0.55" stroke-width="0.9"/><line x1="216.9" y1="390.3" x2="221.9" y2="390.3" stroke="#808080" stroke-opacity="0.55" stroke-width="0.9"/><line x1="202.8" y1="395" x2="207.8" y2="395" stroke="#808080" stroke-opacity="0.55" stroke-width="0.9"/><line x1="211.8" y1="393.7" x2="216.8" y2="393.7" stroke="#808080" stroke-opacity="0.55" stroke-width="0.9"/><line x1="199.2" y1="382.7" x2="260.8" y2="382.7" stroke="#808080" stroke-opacity="0.6" stroke-width="1.1"/><line x1="199" y1="388.5" x2="225.9" y2="388.5" stroke="#808080" stroke-opacity="0.6" stroke-width="1.1"/><polygon points="58.5,461.5 63.17,459.1 67.84,456.71 72.52,454.31 77.19,451.91 81.86,449.52 86.53,447.12 91.21,444.72 95.88,442.31 100.55,439.91 105.22,437.51 109.9,435.1 114.57,432.69 119.24,430.28 123.91,427.87 128.59,425.46 133.26,423.04 137.93,420.61 142.61,418.19 147.28,415.76 151.95,413.32 156.62,410.87 161.3,408.42 165.97,405.96 170.64,403.48 175.31,401 179.99,398.49 184.66,395.97 189.33,393.43 194,390.86 198.68,388.27 203.35,385.66 208.02,383 212.69,380.3 217.37,377.56 222.04,374.8 226.71,372.01 231.38,369.2 236.06,366.38 240.73,363.55 245.4,360.7 245.4,367.7 240.73,370.07 236.06,372.45 231.38,374.84 226.71,377.25 222.04,379.68 217.37,382.13 212.69,384.61 208.02,387.12 203.35,389.68 198.68,392.28 194,394.9 189.33,397.55 184.66,400.23 179.99,402.92 175.31,405.63 170.64,408.36 165.97,411.1 161.3,413.85 156.62,416.61 151.95,419.38 147.28,422.16 142.61,424.94 137.93,427.73 133.26,430.52 128.59,433.32 123.91,436.12 119.24,438.92 114.57,441.73 109.9,444.53 105.22,447.34 100.55,450.15 95.88,452.97 91.21,455.78 86.53,458.59 81.86,461.41 77.19,464.23 72.52,467.04 67.84,469.86 63.17,472.68 58.5,475.5" fill="#cdcdd0" fill-opacity="0.45"/><line x1="58.5" y1="468.5" x2="245.4" y2="364.2" stroke="#000" stroke-width="1.3"/></g><rect x="54.3" y="362.3" width="52.4" height="21.4" rx="2.5" fill="#eaeaf2" stroke="#cfcfd6" stroke-width="0.9"/><text x="59.2" y="376.1" font-size="11.8"><tspan font-style="italic">ρ</tspan> = 0.79</text><rect x="305.7" y="356.9" width="222" height="123.6" fill="#eaeaf2"/><text x="326.65" y="495.9" font-size="10.4">7</text><rect x="322" y="491.2" width="4.5" height="1" fill="#262626"/><text x="371.5" y="495.9" font-size="10.4">6</text><rect x="366.85" y="491.2" width="4.5" height="1" fill="#262626"/><text x="416.35" y="495.9" font-size="10.4">5</text><rect x="411.7" y="491.2" width="4.5" height="1" fill="#262626"/><text x="461.2" y="495.9" font-size="10.4">4</text><rect x="456.55" y="491.2" width="4.5" height="1" fill="#262626"/><text x="506.05" y="495.9" font-size="10.4">3</text><rect x="501.4" y="491.2" width="4.5" height="1" fill="#262626"/><text x="298.5" y="373.9" text-anchor="end" font-size="10.4">5</text><rect x="287.6" y="369.8" width="4.5" height="1" fill="#262626"/><text x="298.5" y="400.6" text-anchor="end" font-size="10.4">6</text><rect x="287.6" y="396.5" width="4.5" height="1" fill="#262626"/><text x="298.5" y="427.3" text-anchor="end" font-size="10.4">7</text><rect x="287.6" y="423.2" width="4.5" height="1" fill="#262626"/><text x="298.5" y="454" text-anchor="end" font-size="10.4">8</text><rect x="287.6" y="449.9" width="4.5" height="1" fill="#262626"/><text x="298.5" y="480.7" text-anchor="end" font-size="10.4">9</text><rect x="287.6" y="476.6" width="4.5" height="1" fill="#262626"/><g stroke="#ffffff" stroke-width="1.0"><line x1="327" y1="356.9" x2="327" y2="480.5"/><line x1="371.85" y1="356.9" x2="371.85" y2="480.5"/><line x1="416.7" y1="356.9" x2="416.7" y2="480.5"/><line x1="461.55" y1="356.9" x2="461.55" y2="480.5"/><line x1="506.4" y1="356.9" x2="506.4" y2="480.5"/><line x1="305.7" y1="370.5" x2="527.7" y2="370.5"/><line x1="305.7" y1="397.2" x2="527.7" y2="397.2"/><line x1="305.7" y1="423.9" x2="527.7" y2="423.9"/><line x1="305.7" y1="450.6" x2="527.7" y2="450.6"/><line x1="305.7" y1="477.3" x2="527.7" y2="477.3"/></g><text x="416.7" y="352.3" text-anchor="middle" font-size="10">SiIV</text><g clip-path="url(#clip5)"><circle cx="403.3" cy="406" r="4" fill="#2a788e"/><circle cx="370.9" cy="412.1" r="4" fill="#aedc31"/><circle cx="371.9" cy="413.6" r="4" fill="#9ad83d"/><circle cx="368.4" cy="417.3" r="4" fill="#63ca5f"/><circle cx="395.5" cy="414.6" r="4" fill="#33b67a"/><circle cx="401.7" cy="415.6" r="4" fill="#aedc31"/><circle cx="407.9" cy="421.2" r="4" fill="#3b528b"/><circle cx="406.4" cy="422.8" r="4" fill="#20958c"/><circle cx="382.2" cy="424.9" r="4" fill="#20958c"/><circle cx="382.2" cy="427.9" r="4" fill="#22a884"/><circle cx="344.8" cy="431" r="4" fill="#63ca5f"/><circle cx="360.6" cy="432" r="4" fill="#209c89"/><circle cx="372.3" cy="436.2" r="4" fill="#7ad151"/><circle cx="406.4" cy="432.7" r="4" fill="#33b67a"/><circle cx="418.1" cy="429" r="4" fill="#33b67a"/><circle cx="464.4" cy="370.6" r="4" fill="#20958c"/><circle cx="471.7" cy="371" r="4" fill="#21908c"/><circle cx="477.7" cy="371.4" r="4" fill="#22a884"/><circle cx="480.7" cy="373.6" r="4" fill="#3bba76"/><circle cx="477.7" cy="376.6" r="4" fill="#3bba76"/><circle cx="461.8" cy="378.7" r="4" fill="#44be70"/><circle cx="468.7" cy="378.3" r="4" fill="#20958c"/><circle cx="487.1" cy="379.1" r="4" fill="#25848e"/><circle cx="481.5" cy="383.8" r="4" fill="#21908c"/><circle cx="461.8" cy="389" r="4" fill="#21908c"/><circle cx="461.4" cy="386.4" r="4" fill="#fde725"/><circle cx="467.4" cy="387.3" r="4" fill="#4ec26b"/><circle cx="473.4" cy="386.4" r="4" fill="#aedc31"/><circle cx="476.4" cy="389.4" r="4" fill="#fde725"/><circle cx="486.7" cy="389" r="4" fill="#aedc31"/><circle cx="471" cy="397.1" r="4" fill="#209c89"/><circle cx="449" cy="398.6" r="4" fill="#2a788e"/><circle cx="426.8" cy="406.8" r="4" fill="#fde725"/><circle cx="476.2" cy="413.1" r="4" fill="#21908c"/><circle cx="474.7" cy="415" r="4" fill="#fde725"/><circle cx="449" cy="428.4" r="4" fill="#45085b"/><circle cx="450.1" cy="436.8" r="4" fill="#414487"/><circle cx="443.3" cy="442.3" r="4" fill="#aedc31"/><line x1="400.8" y1="406" x2="405.8" y2="406" stroke="#808080" stroke-opacity="0.55" stroke-width="0.9"/><line x1="368.4" y1="412.1" x2="373.4" y2="412.1" stroke="#808080" stroke-opacity="0.55" stroke-width="0.9"/><line x1="369.4" y1="413.6" x2="374.4" y2="413.6" stroke="#808080" stroke-opacity="0.55" stroke-width="0.9"/><line x1="360.6" y1="417.3" x2="376.4" y2="417.3" stroke="#808080" stroke-opacity="0.6" stroke-width="1.1"/><line x1="393" y1="414.6" x2="398" y2="414.6" stroke="#808080" stroke-opacity="0.55" stroke-width="0.9"/><line x1="399.2" y1="415.6" x2="404.2" y2="415.6" stroke="#808080" stroke-opacity="0.55" stroke-width="0.9"/><line x1="405.4" y1="421.2" x2="410.4" y2="421.2" stroke="#808080" stroke-opacity="0.55" stroke-width="0.9"/><line x1="403.9" y1="422.8" x2="408.9" y2="422.8" stroke="#808080" stroke-opacity="0.55" stroke-width="0.9"/><line x1="379.7" y1="424.9" x2="384.7" y2="424.9" stroke="#808080" stroke-opacity="0.55" stroke-width="0.9"/><line x1="379.7" y1="427.9" x2="384.7" y2="427.9" stroke="#808080" stroke-opacity="0.55" stroke-width="0.9"/><line x1="329.2" y1="431" x2="360.6" y2="431" stroke="#808080" stroke-opacity="0.6" stroke-width="1.1"/><line x1="358.1" y1="432" x2="363.1" y2="432" stroke="#808080" stroke-opacity="0.55" stroke-width="0.9"/><line x1="369.8" y1="436.2" x2="374.8" y2="436.2" stroke="#808080" stroke-opacity="0.55" stroke-width="0.9"/><line x1="403.9" y1="432.7" x2="408.9" y2="432.7" stroke="#808080" stroke-opacity="0.55" stroke-width="0.9"/><line x1="415.6" y1="429" x2="420.6" y2="429" stroke="#808080" stroke-opacity="0.55" stroke-width="0.9"/><line x1="393.5" y1="421.2" x2="419.9" y2="421.2" stroke="#808080" stroke-opacity="0.6" stroke-width="1.1"/><line x1="461.9" y1="370.6" x2="466.9" y2="370.6" stroke="#808080" stroke-opacity="0.55" stroke-width="0.9"/><line x1="469.2" y1="371" x2="474.2" y2="371" stroke="#808080" stroke-opacity="0.55" stroke-width="0.9"/><line x1="475.2" y1="371.4" x2="480.2" y2="371.4" stroke="#808080" stroke-opacity="0.55" stroke-width="0.9"/><line x1="478.2" y1="373.6" x2="483.2" y2="373.6" stroke="#808080" stroke-opacity="0.55" stroke-width="0.9"/><line x1="475.2" y1="376.6" x2="480.2" y2="376.6" stroke="#808080" stroke-opacity="0.55" stroke-width="0.9"/><line x1="459.3" y1="378.7" x2="464.3" y2="378.7" stroke="#808080" stroke-opacity="0.55" stroke-width="0.9"/><line x1="466.2" y1="378.3" x2="471.2" y2="378.3" stroke="#808080" stroke-opacity="0.55" stroke-width="0.9"/><line x1="484.6" y1="379.1" x2="489.6" y2="379.1" stroke="#808080" stroke-opacity="0.55" stroke-width="0.9"/><line x1="479" y1="383.8" x2="484" y2="383.8" stroke="#808080" stroke-opacity="0.55" stroke-width="0.9"/><line x1="459.3" y1="389" x2="464.3" y2="389" stroke="#808080" stroke-opacity="0.55" stroke-width="0.9"/><line x1="458.9" y1="386.4" x2="463.9" y2="386.4" stroke="#808080" stroke-opacity="0.55" stroke-width="0.9"/><line x1="464.9" y1="387.3" x2="469.9" y2="387.3" stroke="#808080" stroke-opacity="0.55" stroke-width="0.9"/><line x1="470.9" y1="386.4" x2="475.9" y2="386.4" stroke="#808080" stroke-opacity="0.55" stroke-width="0.9"/><line x1="473.9" y1="389.4" x2="478.9" y2="389.4" stroke="#808080" stroke-opacity="0.55" stroke-width="0.9"/><line x1="484.2" y1="389" x2="489.2" y2="389" stroke="#808080" stroke-opacity="0.55" stroke-width="0.9"/><line x1="456.3" y1="379.1" x2="517.9" y2="379.1" stroke="#808080" stroke-opacity="0.6" stroke-width="1.1"/><line x1="455.4" y1="386.8" x2="480" y2="386.8" stroke="#808080" stroke-opacity="0.6" stroke-width="1.1"/><line x1="468.5" y1="397.1" x2="473.5" y2="397.1" stroke="#808080" stroke-opacity="0.55" stroke-width="0.9"/><line x1="446.5" y1="398.6" x2="451.5" y2="398.6" stroke="#808080" stroke-opacity="0.55" stroke-width="0.9"/><line x1="400" y1="406.8" x2="452.5" y2="406.8" stroke="#808080" stroke-opacity="0.6" stroke-width="1.1"/><line x1="473.7" y1="413.1" x2="478.7" y2="413.1" stroke="#808080" stroke-opacity="0.55" stroke-width="0.9"/><line x1="467.1" y1="415" x2="482.9" y2="415" stroke="#808080" stroke-opacity="0.6" stroke-width="1.1"/><line x1="433.6" y1="428.4" x2="465.1" y2="428.4" stroke="#808080" stroke-opacity="0.6" stroke-width="1.1"/><line x1="449" y1="424.6" x2="449" y2="432.2" stroke="#808080" stroke-opacity="0.6" stroke-width="1.1"/><line x1="436.3" y1="436.8" x2="464" y2="436.8" stroke="#808080" stroke-opacity="0.6" stroke-width="1.1"/><line x1="450.1" y1="433" x2="450.1" y2="440.6" stroke="#808080" stroke-opacity="0.6" stroke-width="1.1"/><line x1="384.7" y1="442.3" x2="501.8" y2="442.3" stroke="#808080" stroke-opacity="0.6" stroke-width="1.1"/><line x1="443.3" y1="439.3" x2="443.3" y2="445.3" stroke="#808080" stroke-opacity="0.6" stroke-width="1.1"/><polygon points="315.5,461.3 320.18,458.93 324.85,456.55 329.52,454.18 334.2,451.81 338.88,449.43 343.55,447.05 348.23,444.68 352.9,442.3 357.57,439.92 362.25,437.54 366.93,435.15 371.6,432.77 376.27,430.38 380.95,427.99 385.62,425.6 390.3,423.2 394.98,420.8 399.65,418.39 404.32,415.98 409,413.57 413.68,411.14 418.35,408.71 423.02,406.26 427.7,403.81 432.38,401.33 437.05,398.84 441.73,396.33 446.4,393.8 451.07,391.24 455.75,388.65 460.43,386.02 465.1,383.33 469.77,380.59 474.45,377.82 479.12,375.01 483.8,372.18 488.48,369.33 493.15,366.46 497.82,363.59 502.5,360.7 502.5,368.7 497.82,371 493.15,373.32 488.48,375.64 483.8,377.98 479.12,380.34 474.45,382.72 469.77,385.14 465.1,387.59 460.43,390.09 455.75,392.65 451.07,395.25 446.4,397.88 441.73,400.54 437.05,403.22 432.38,405.92 427.7,408.63 423.02,411.37 418.35,414.11 413.68,416.87 409,419.63 404.32,422.41 399.65,425.19 394.98,427.97 390.3,430.76 385.62,433.55 380.95,436.35 376.27,439.15 371.6,441.95 366.93,444.76 362.25,447.56 357.57,450.37 352.9,453.18 348.23,455.99 343.55,458.81 338.88,461.62 334.2,464.43 329.52,467.25 324.85,470.07 320.18,472.88 315.5,475.7" fill="#cdcdd0" fill-opacity="0.45"/><line x1="315.5" y1="468.5" x2="502.5" y2="364.7" stroke="#000" stroke-width="1.3"/></g><rect x="311" y="362.3" width="50.4" height="21.4" rx="2.5" fill="#eaeaf2" stroke="#cfcfd6" stroke-width="0.9"/><text x="315.9" y="376.1" font-size="11.8"><tspan font-style="italic">ρ</tspan> = 0.71</text><rect x="49" y="522.4" width="222" height="123.6" fill="#eaeaf2"/><text x="69.65" y="661.4" font-size="10.4">7</text><rect x="65" y="656.7" width="4.5" height="1" fill="#262626"/><text x="114.5" y="661.4" font-size="10.4">6</text><rect x="109.85" y="656.7" width="4.5" height="1" fill="#262626"/><text x="159.35" y="661.4" font-size="10.4">5</text><rect x="154.7" y="656.7" width="4.5" height="1" fill="#262626"/><text x="204.2" y="661.4" font-size="10.4">4</text><rect x="199.55" y="656.7" width="4.5" height="1" fill="#262626"/><text x="249.05" y="661.4" font-size="10.4">3</text><rect x="244.4" y="656.7" width="4.5" height="1" fill="#262626"/><text x="41.8" y="526.1" text-anchor="end" font-size="10.4">4</text><rect x="30.9" y="522" width="4.5" height="1" fill="#262626"/><text x="41.8" y="554.3" text-anchor="end" font-size="10.4">5</text><rect x="30.9" y="550.2" width="4.5" height="1" fill="#262626"/><text x="41.8" y="582.5" text-anchor="end" font-size="10.4">6</text><rect x="30.9" y="578.4" width="4.5" height="1" fill="#262626"/><text x="41.8" y="610.7" text-anchor="end" font-size="10.4">7</text><rect x="30.9" y="606.6" width="4.5" height="1" fill="#262626"/><text x="41.8" y="638.9" text-anchor="end" font-size="10.4">8</text><rect x="30.9" y="634.8" width="4.5" height="1" fill="#262626"/><g stroke="#ffffff" stroke-width="1.0"><line x1="70" y1="522.4" x2="70" y2="646"/><line x1="114.85" y1="522.4" x2="114.85" y2="646"/><line x1="159.7" y1="522.4" x2="159.7" y2="646"/><line x1="204.55" y1="522.4" x2="204.55" y2="646"/><line x1="249.4" y1="522.4" x2="249.4" y2="646"/><line x1="49" y1="522.7" x2="271" y2="522.7"/><line x1="49" y1="550.9" x2="271" y2="550.9"/><line x1="49" y1="579.1" x2="271" y2="579.1"/><line x1="49" y1="607.3" x2="271" y2="607.3"/><line x1="49" y1="635.5" x2="271" y2="635.5"/></g><text x="160" y="517.8" text-anchor="middle" font-size="10">CIV</text><g clip-path="url(#clip6)"><circle cx="114" cy="574.5" r="4" fill="#aedc31"/><circle cx="111.5" cy="583.3" r="4" fill="#63ca5f"/><circle cx="116" cy="582.7" r="4" fill="#aedc31"/><circle cx="116.6" cy="594" r="4" fill="#fde725"/><circle cx="125.3" cy="585.3" r="4" fill="#21908c"/><circle cx="126.3" cy="595" r="4" fill="#21a386"/><circle cx="103.7" cy="600.1" r="4" fill="#33b67a"/><circle cx="138.6" cy="577.5" r="4" fill="#33b67a"/><circle cx="146.4" cy="577.1" r="4" fill="#25848e"/><circle cx="149.9" cy="575.9" r="4" fill="#3f4988"/><circle cx="144.4" cy="580" r="4" fill="#aedc31"/><circle cx="148.9" cy="585.8" r="4" fill="#20958c"/><circle cx="150" cy="592.3" r="4" fill="#21908c"/><circle cx="150" cy="600.6" r="4" fill="#33b67a"/><circle cx="87.7" cy="604.7" r="4" fill="#63ca5f"/><circle cx="207.4" cy="534.5" r="4" fill="#21908c"/><circle cx="221.1" cy="532.3" r="4" fill="#3bba76"/><circle cx="214.7" cy="539.6" r="4" fill="#33b67a"/><circle cx="222.4" cy="540" r="4" fill="#21908c"/><circle cx="215.1" cy="542.6" r="4" fill="#22a884"/><circle cx="230.5" cy="544.3" r="4" fill="#21908c"/><circle cx="224.5" cy="547.3" r="4" fill="#33b67a"/><circle cx="204.8" cy="548.6" r="4" fill="#44be70"/><circle cx="212.1" cy="549.4" r="4" fill="#aedc31"/><circle cx="215.5" cy="550.7" r="4" fill="#7ad151"/><circle cx="225.4" cy="551.6" r="4" fill="#20958c"/><circle cx="218.5" cy="554.2" r="4" fill="#21908c"/><circle cx="204.4" cy="554.2" r="4" fill="#fde725"/><circle cx="219.4" cy="555" r="4" fill="#fde725"/><circle cx="225" cy="555.4" r="4" fill="#20958c"/><circle cx="211.7" cy="558.9" r="4" fill="#20958c"/><circle cx="192.4" cy="561" r="4" fill="#209c89"/><circle cx="192.4" cy="563" r="4" fill="#25848e"/><circle cx="193" cy="567.1" r="4" fill="#45085b"/><circle cx="161.6" cy="600.6" r="4" fill="#33b67a"/><circle cx="169.8" cy="628.8" r="4" fill="#fde725"/><line x1="111.5" y1="574.5" x2="116.5" y2="574.5" stroke="#808080" stroke-opacity="0.55" stroke-width="0.9"/><line x1="103.7" y1="583.3" x2="119.7" y2="583.3" stroke="#808080" stroke-opacity="0.6" stroke-width="1.1"/><line x1="113.5" y1="582.7" x2="118.5" y2="582.7" stroke="#808080" stroke-opacity="0.55" stroke-width="0.9"/><line x1="90.3" y1="594" x2="142.7" y2="594" stroke="#808080" stroke-opacity="0.6" stroke-width="1.1"/><line x1="122.8" y1="585.3" x2="127.8" y2="585.3" stroke="#808080" stroke-opacity="0.55" stroke-width="0.9"/><line x1="123.8" y1="595" x2="128.8" y2="595" stroke="#808080" stroke-opacity="0.55" stroke-width="0.9"/><line x1="101.2" y1="600.1" x2="106.2" y2="600.1" stroke="#808080" stroke-opacity="0.55" stroke-width="0.9"/><line x1="136.1" y1="577.5" x2="141.1" y2="577.5" stroke="#808080" stroke-opacity="0.55" stroke-width="0.9"/><line x1="143.9" y1="577.1" x2="148.9" y2="577.1" stroke="#808080" stroke-opacity="0.55" stroke-width="0.9"/><line x1="147.4" y1="575.9" x2="152.4" y2="575.9" stroke="#808080" stroke-opacity="0.55" stroke-width="0.9"/><line x1="141.9" y1="580" x2="146.9" y2="580" stroke="#808080" stroke-opacity="0.55" stroke-width="0.9"/><line x1="146.4" y1="585.8" x2="151.4" y2="585.8" stroke="#808080" stroke-opacity="0.55" stroke-width="0.9"/><line x1="147.5" y1="592.3" x2="152.5" y2="592.3" stroke="#808080" stroke-opacity="0.55" stroke-width="0.9"/><line x1="147.5" y1="600.6" x2="152.5" y2="600.6" stroke="#808080" stroke-opacity="0.55" stroke-width="0.9"/><line x1="72.5" y1="604.7" x2="102.5" y2="604.7" stroke="#808080" stroke-opacity="0.6" stroke-width="1.1"/><line x1="204.9" y1="534.5" x2="209.9" y2="534.5" stroke="#808080" stroke-opacity="0.55" stroke-width="0.9"/><line x1="218.6" y1="532.3" x2="223.6" y2="532.3" stroke="#808080" stroke-opacity="0.55" stroke-width="0.9"/><line x1="212.2" y1="539.6" x2="217.2" y2="539.6" stroke="#808080" stroke-opacity="0.55" stroke-width="0.9"/><line x1="219.9" y1="540" x2="224.9" y2="540" stroke="#808080" stroke-opacity="0.55" stroke-width="0.9"/><line x1="212.6" y1="542.6" x2="217.6" y2="542.6" stroke="#808080" stroke-opacity="0.55" stroke-width="0.9"/><line x1="228" y1="544.3" x2="233" y2="544.3" stroke="#808080" stroke-opacity="0.55" stroke-width="0.9"/><line x1="222" y1="547.3" x2="227" y2="547.3" stroke="#808080" stroke-opacity="0.55" stroke-width="0.9"/><line x1="202.3" y1="548.6" x2="207.3" y2="548.6" stroke="#808080" stroke-opacity="0.55" stroke-width="0.9"/><line x1="209.6" y1="549.4" x2="214.6" y2="549.4" stroke="#808080" stroke-opacity="0.55" stroke-width="0.9"/><line x1="213" y1="550.7" x2="218" y2="550.7" stroke="#808080" stroke-opacity="0.55" stroke-width="0.9"/><line x1="222.9" y1="551.6" x2="227.9" y2="551.6" stroke="#808080" stroke-opacity="0.55" stroke-width="0.9"/><line x1="216" y1="554.2" x2="221" y2="554.2" stroke="#808080" stroke-opacity="0.55" stroke-width="0.9"/><line x1="201.9" y1="554.2" x2="206.9" y2="554.2" stroke="#808080" stroke-opacity="0.55" stroke-width="0.9"/><line x1="216.9" y1="555" x2="221.9" y2="555" stroke="#808080" stroke-opacity="0.55" stroke-width="0.9"/><line x1="222.5" y1="555.4" x2="227.5" y2="555.4" stroke="#808080" stroke-opacity="0.55" stroke-width="0.9"/><line x1="209.2" y1="558.9" x2="214.2" y2="558.9" stroke="#808080" stroke-opacity="0.55" stroke-width="0.9"/><line x1="199.3" y1="544.1" x2="260.8" y2="544.1" stroke="#808080" stroke-opacity="0.6" stroke-width="1.1"/><line x1="198" y1="554.2" x2="222" y2="554.2" stroke="#808080" stroke-opacity="0.6" stroke-width="1.1"/><line x1="200.1" y1="559.3" x2="215" y2="559.3" stroke="#808080" stroke-opacity="0.6" stroke-width="1.1"/><line x1="189.9" y1="561" x2="194.9" y2="561" stroke="#808080" stroke-opacity="0.55" stroke-width="0.9"/><line x1="189.9" y1="563" x2="194.9" y2="563" stroke="#808080" stroke-opacity="0.55" stroke-width="0.9"/><line x1="190.5" y1="567.1" x2="195.5" y2="567.1" stroke="#808080" stroke-opacity="0.55" stroke-width="0.9"/><line x1="176.6" y1="564.7" x2="208.8" y2="564.7" stroke="#808080" stroke-opacity="0.6" stroke-width="1.1"/><line x1="182.3" y1="567.1" x2="204.3" y2="567.1" stroke="#808080" stroke-opacity="0.6" stroke-width="1.1"/><line x1="159.1" y1="600.6" x2="164.1" y2="600.6" stroke="#808080" stroke-opacity="0.55" stroke-width="0.9"/><line x1="145" y1="628.8" x2="195.5" y2="628.8" stroke="#808080" stroke-opacity="0.6" stroke-width="1.1"/><line x1="169.8" y1="616.5" x2="169.8" y2="641" stroke="#808080" stroke-opacity="0.6" stroke-width="1.1"/><line x1="140" y1="575.9" x2="159.1" y2="575.9" stroke="#808080" stroke-opacity="0.6" stroke-width="1.1"/><polygon points="58.5,623.2 63.17,620.95 67.84,618.7 72.52,616.46 77.19,614.21 81.86,611.96 86.53,609.7 91.21,607.45 95.88,605.2 100.55,602.95 105.22,600.69 109.9,598.44 114.57,596.18 119.24,593.92 123.91,591.66 128.59,589.39 133.26,587.12 137.93,584.85 142.61,582.58 147.28,580.3 151.95,578.01 156.62,575.72 161.3,573.42 165.97,571.1 170.64,568.78 175.31,566.43 179.99,564.07 184.66,561.68 189.33,559.25 194,556.8 198.68,554.3 203.35,551.76 208.02,549.18 212.69,546.55 217.37,543.9 222.04,541.21 226.71,538.5 231.38,535.77 236.06,533.03 240.73,530.27 245.4,527.5 245.4,534.5 240.73,536.79 236.06,539.09 231.38,541.41 226.71,543.74 222.04,546.09 217.37,548.46 212.69,550.87 208.02,553.3 203.35,555.78 198.68,558.3 194,560.86 189.33,563.47 184.66,566.1 179.99,568.77 175.31,571.47 170.64,574.18 165.97,576.92 161.3,579.66 156.62,582.42 151.95,585.19 147.28,587.96 142.61,590.74 137.93,593.53 133.26,596.32 128.59,599.11 123.91,601.9 119.24,604.7 114.57,607.5 109.9,610.3 105.22,613.11 100.55,615.91 95.88,618.72 91.21,621.53 86.53,624.34 81.86,627.14 77.19,629.95 72.52,632.76 67.84,635.58 63.17,638.39 58.5,641.2" fill="#cdcdd0" fill-opacity="0.45"/><line x1="58.5" y1="632.2" x2="245.4" y2="531" stroke="#000" stroke-width="1.3"/></g><rect x="54.3" y="527.8" width="52.4" height="21.4" rx="2.5" fill="#eaeaf2" stroke="#cfcfd6" stroke-width="0.9"/><text x="59.2" y="541.6" font-size="11.8"><tspan font-style="italic">ρ</tspan> = 0.82</text><rect x="305.7" y="522.4" width="222" height="123.6" fill="#eaeaf2"/><text x="326.65" y="661.4" font-size="10.4">7</text><rect x="322" y="656.7" width="4.5" height="1" fill="#262626"/><text x="371.5" y="661.4" font-size="10.4">6</text><rect x="366.85" y="656.7" width="4.5" height="1" fill="#262626"/><text x="416.35" y="661.4" font-size="10.4">5</text><rect x="411.7" y="656.7" width="4.5" height="1" fill="#262626"/><text x="461.2" y="661.4" font-size="10.4">4</text><rect x="456.55" y="656.7" width="4.5" height="1" fill="#262626"/><text x="506.05" y="661.4" font-size="10.4">3</text><rect x="501.4" y="656.7" width="4.5" height="1" fill="#262626"/><text x="298.5" y="549.3" text-anchor="end" font-size="10.4">5</text><rect x="287.6" y="545.2" width="4.5" height="1" fill="#262626"/><text x="298.5" y="575.4" text-anchor="end" font-size="10.4">6</text><rect x="287.6" y="571.3" width="4.5" height="1" fill="#262626"/><text x="298.5" y="601.5" text-anchor="end" font-size="10.4">7</text><rect x="287.6" y="597.4" width="4.5" height="1" fill="#262626"/><text x="298.5" y="627.6" text-anchor="end" font-size="10.4">8</text><rect x="287.6" y="623.5" width="4.5" height="1" fill="#262626"/><g stroke="#ffffff" stroke-width="1.0"><line x1="327" y1="522.4" x2="327" y2="646"/><line x1="371.85" y1="522.4" x2="371.85" y2="646"/><line x1="416.7" y1="522.4" x2="416.7" y2="646"/><line x1="461.55" y1="522.4" x2="461.55" y2="646"/><line x1="506.4" y1="522.4" x2="506.4" y2="646"/><line x1="305.7" y1="545.9" x2="527.7" y2="545.9"/><line x1="305.7" y1="572" x2="527.7" y2="572"/><line x1="305.7" y1="598.1" x2="527.7" y2="598.1"/><line x1="305.7" y1="624.2" x2="527.7" y2="624.2"/></g><text x="416.7" y="517.8" text-anchor="middle" font-size="10">HeII</text><g clip-path="url(#clip7)"><circle cx="371" cy="574.5" r="4" fill="#aedc31"/><circle cx="373.5" cy="575.5" r="4" fill="#9ad83d"/><circle cx="368.4" cy="586.5" r="4" fill="#63ca5f"/><circle cx="395.5" cy="580.7" r="4" fill="#21908c"/><circle cx="401.1" cy="578.1" r="4" fill="#aedc31"/><circle cx="403.8" cy="584.9" r="4" fill="#2f6c8e"/><circle cx="382.2" cy="588.6" r="4" fill="#21908c"/><circle cx="382.2" cy="592.7" r="4" fill="#21908c"/><circle cx="384.2" cy="598.2" r="4" fill="#25848e"/><circle cx="407.9" cy="590" r="4" fill="#471466"/><circle cx="405.8" cy="592" r="4" fill="#228b8d"/><circle cx="344.8" cy="596.8" r="4" fill="#63ca5f"/><circle cx="360.6" cy="596.2" r="4" fill="#209c89"/><circle cx="406.4" cy="601.3" r="4" fill="#33b67a"/><circle cx="418.1" cy="595.1" r="4" fill="#22a884"/><circle cx="477.7" cy="533.6" r="4" fill="#21a386"/><circle cx="479" cy="537.8" r="4" fill="#25848e"/><circle cx="461.8" cy="543" r="4" fill="#3bba76"/><circle cx="471.7" cy="541.3" r="4" fill="#209c89"/><circle cx="471.3" cy="545.5" r="4" fill="#87d449"/><circle cx="487.1" cy="545.1" r="4" fill="#287d8e"/><circle cx="482" cy="548.1" r="4" fill="#25848e"/><circle cx="475.5" cy="546.4" r="4" fill="#21908c"/><circle cx="468.7" cy="550.7" r="4" fill="#25848e"/><circle cx="474.3" cy="549.8" r="4" fill="#21908c"/><circle cx="461.4" cy="550.3" r="4" fill="#fde725"/><circle cx="476.8" cy="553.3" r="4" fill="#fde725"/><circle cx="461.8" cy="556.3" r="4" fill="#287d8e"/><circle cx="471.3" cy="556.7" r="4" fill="#20958c"/><circle cx="426.8" cy="569.3" r="4" fill="#fde725"/><circle cx="449" cy="572" r="4" fill="#3b528b"/><circle cx="443.3" cy="605.9" r="4" fill="#aedc31"/><line x1="368.5" y1="574.5" x2="373.5" y2="574.5" stroke="#808080" stroke-opacity="0.55" stroke-width="0.9"/><line x1="371" y1="575.5" x2="376" y2="575.5" stroke="#808080" stroke-opacity="0.55" stroke-width="0.9"/><line x1="360.6" y1="586.5" x2="376.4" y2="586.5" stroke="#808080" stroke-opacity="0.6" stroke-width="1.1"/><line x1="393" y1="580.7" x2="398" y2="580.7" stroke="#808080" stroke-opacity="0.55" stroke-width="0.9"/><line x1="398.6" y1="578.1" x2="403.6" y2="578.1" stroke="#808080" stroke-opacity="0.55" stroke-width="0.9"/><line x1="401.3" y1="584.9" x2="406.3" y2="584.9" stroke="#808080" stroke-opacity="0.55" stroke-width="0.9"/><line x1="379.7" y1="588.6" x2="384.7" y2="588.6" stroke="#808080" stroke-opacity="0.55" stroke-width="0.9"/><line x1="379.7" y1="592.7" x2="384.7" y2="592.7" stroke="#808080" stroke-opacity="0.55" stroke-width="0.9"/><line x1="381.7" y1="598.2" x2="386.7" y2="598.2" stroke="#808080" stroke-opacity="0.55" stroke-width="0.9"/><line x1="405.4" y1="590" x2="410.4" y2="590" stroke="#808080" stroke-opacity="0.55" stroke-width="0.9"/><line x1="403.3" y1="592" x2="408.3" y2="592" stroke="#808080" stroke-opacity="0.55" stroke-width="0.9"/><line x1="329.2" y1="596.8" x2="360.6" y2="596.8" stroke="#808080" stroke-opacity="0.6" stroke-width="1.1"/><line x1="358.1" y1="596.2" x2="363.1" y2="596.2" stroke="#808080" stroke-opacity="0.55" stroke-width="0.9"/><line x1="403.9" y1="601.3" x2="408.9" y2="601.3" stroke="#808080" stroke-opacity="0.55" stroke-width="0.9"/><line x1="415.6" y1="595.1" x2="420.6" y2="595.1" stroke="#808080" stroke-opacity="0.55" stroke-width="0.9"/><line x1="394.5" y1="590" x2="419.9" y2="590" stroke="#808080" stroke-opacity="0.6" stroke-width="1.1"/><line x1="475.2" y1="533.6" x2="480.2" y2="533.6" stroke="#808080" stroke-opacity="0.55" stroke-width="0.9"/><line x1="476.5" y1="537.8" x2="481.5" y2="537.8" stroke="#808080" stroke-opacity="0.55" stroke-width="0.9"/><line x1="459.3" y1="543" x2="464.3" y2="543" stroke="#808080" stroke-opacity="0.55" stroke-width="0.9"/><line x1="469.2" y1="541.3" x2="474.2" y2="541.3" stroke="#808080" stroke-opacity="0.55" stroke-width="0.9"/><line x1="468.8" y1="545.5" x2="473.8" y2="545.5" stroke="#808080" stroke-opacity="0.55" stroke-width="0.9"/><line x1="484.6" y1="545.1" x2="489.6" y2="545.1" stroke="#808080" stroke-opacity="0.55" stroke-width="0.9"/><line x1="479.5" y1="548.1" x2="484.5" y2="548.1" stroke="#808080" stroke-opacity="0.55" stroke-width="0.9"/><line x1="473" y1="546.4" x2="478" y2="546.4" stroke="#808080" stroke-opacity="0.55" stroke-width="0.9"/><line x1="466.2" y1="550.7" x2="471.2" y2="550.7" stroke="#808080" stroke-opacity="0.55" stroke-width="0.9"/><line x1="471.8" y1="549.8" x2="476.8" y2="549.8" stroke="#808080" stroke-opacity="0.55" stroke-width="0.9"/><line x1="458.9" y1="550.3" x2="463.9" y2="550.3" stroke="#808080" stroke-opacity="0.55" stroke-width="0.9"/><line x1="474.3" y1="553.3" x2="479.3" y2="553.3" stroke="#808080" stroke-opacity="0.55" stroke-width="0.9"/><line x1="459.3" y1="556.3" x2="464.3" y2="556.3" stroke="#808080" stroke-opacity="0.55" stroke-width="0.9"/><line x1="468.8" y1="556.7" x2="473.8" y2="556.7" stroke="#808080" stroke-opacity="0.55" stroke-width="0.9"/><line x1="456.3" y1="545.3" x2="517.9" y2="545.3" stroke="#808080" stroke-opacity="0.6" stroke-width="1.1"/><line x1="455.4" y1="550.7" x2="477.7" y2="550.7" stroke="#808080" stroke-opacity="0.6" stroke-width="1.1"/><line x1="400" y1="569.3" x2="449" y2="569.3" stroke="#808080" stroke-opacity="0.6" stroke-width="1.1"/><line x1="446.5" y1="572" x2="451.5" y2="572" stroke="#808080" stroke-opacity="0.55" stroke-width="0.9"/><line x1="384" y1="605.9" x2="501.8" y2="605.9" stroke="#808080" stroke-opacity="0.6" stroke-width="1.1"/><line x1="443.3" y1="602.9" x2="443.3" y2="608.9" stroke="#808080" stroke-opacity="0.6" stroke-width="1.1"/><polygon points="315.5,624.3 320.18,622 324.85,619.71 329.52,617.41 334.2,615.11 338.88,612.81 343.55,610.51 348.23,608.21 352.9,605.91 357.57,603.6 362.25,601.3 366.93,598.99 371.6,596.68 376.27,594.37 380.95,592.06 385.62,589.74 390.3,587.42 394.98,585.1 399.65,582.77 404.32,580.44 409,578.1 413.68,575.75 418.35,573.4 423.02,571.03 427.7,568.65 432.38,566.25 437.05,563.82 441.73,561.38 446.4,558.9 451.07,556.39 455.75,553.85 460.43,551.26 465.1,548.61 469.77,545.91 474.45,543.18 479.12,540.41 483.8,537.62 488.48,534.81 493.15,531.98 497.82,529.15 502.5,526.3 502.5,534.3 497.82,536.56 493.15,538.84 488.48,541.12 483.8,543.42 479.12,545.74 474.45,548.08 469.77,550.46 465.1,552.87 460.43,555.33 455.75,557.85 451.07,560.42 446.4,563.02 441.73,565.65 437.05,568.32 432.38,571 427.7,573.71 423.02,576.44 418.35,579.18 413.68,581.94 409,584.7 404.32,587.47 399.65,590.25 394.98,593.03 390.3,595.82 385.62,598.61 380.95,601.4 376.27,604.2 371.6,607 366.93,609.8 362.25,612.6 357.57,615.41 352.9,618.21 348.23,621.02 343.55,623.83 338.88,626.64 334.2,629.45 329.52,632.26 324.85,635.07 320.18,637.89 315.5,640.7" fill="#cdcdd0" fill-opacity="0.45"/><line x1="315.5" y1="632.5" x2="502.5" y2="530.3" stroke="#000" stroke-width="1.3"/></g><rect x="311" y="527.8" width="52.4" height="21.4" rx="2.5" fill="#eaeaf2" stroke="#cfcfd6" stroke-width="0.9"/><text x="315.9" y="541.6" font-size="11.8"><tspan font-style="italic">ρ</tspan> = 0.82</text><rect x="49" y="687.7" width="222" height="123.6" fill="#eaeaf2"/><text x="70.65" y="826.7" font-size="10.4">7</text><rect x="66" y="822" width="4.5" height="1" fill="#262626"/><text x="118.75" y="826.7" font-size="10.4">6</text><rect x="114.1" y="822" width="4.5" height="1" fill="#262626"/><text x="166.85" y="826.7" font-size="10.4">5</text><rect x="162.2" y="822" width="4.5" height="1" fill="#262626"/><text x="214.95" y="826.7" font-size="10.4">4</text><rect x="210.3" y="822" width="4.5" height="1" fill="#262626"/><text x="263.05" y="826.7" font-size="10.4">3</text><rect x="258.4" y="822" width="4.5" height="1" fill="#262626"/><text x="41.8" y="699.6" text-anchor="end" font-size="10.4">3</text><rect x="30.9" y="695.5" width="4.5" height="1" fill="#262626"/><text x="41.8" y="724.8" text-anchor="end" font-size="10.4">4</text><rect x="30.9" y="720.7" width="4.5" height="1" fill="#262626"/><text x="41.8" y="750" text-anchor="end" font-size="10.4">5</text><rect x="30.9" y="745.9" width="4.5" height="1" fill="#262626"/><text x="41.8" y="775.2" text-anchor="end" font-size="10.4">6</text><rect x="30.9" y="771.1" width="4.5" height="1" fill="#262626"/><text x="41.8" y="800.4" text-anchor="end" font-size="10.4">7</text><rect x="30.9" y="796.3" width="4.5" height="1" fill="#262626"/><g stroke="#ffffff" stroke-width="1.0"><line x1="71" y1="687.7" x2="71" y2="811.3"/><line x1="119.1" y1="687.7" x2="119.1" y2="811.3"/><line x1="167.2" y1="687.7" x2="167.2" y2="811.3"/><line x1="215.3" y1="687.7" x2="215.3" y2="811.3"/><line x1="263.4" y1="687.7" x2="263.4" y2="811.3"/><line x1="49" y1="696.2" x2="271" y2="696.2"/><line x1="49" y1="721.4" x2="271" y2="721.4"/><line x1="49" y1="746.6" x2="271" y2="746.6"/><line x1="49" y1="771.8" x2="271" y2="771.8"/><line x1="49" y1="797" x2="271" y2="797"/></g><text x="160" y="683.1" text-anchor="middle" font-size="10">MgII</text><g clip-path="url(#clip8)"><polyline points="70.1,748 167.3,748 261.4,699.7" fill="none" stroke="#ff0000" stroke-width="1.2"/><circle cx="143.2" cy="711.7" r="4" fill="#fde725"/><circle cx="118" cy="729.2" r="4" fill="#fde725"/><circle cx="132.3" cy="737.4" r="4" fill="#25848e"/><circle cx="141.6" cy="735.3" r="4" fill="#7ad151"/><circle cx="144.7" cy="738.8" r="4" fill="#3bba76"/><circle cx="150.8" cy="740.9" r="4" fill="#aedc31"/><circle cx="120" cy="742.1" r="4" fill="#fde725"/><circle cx="115.3" cy="745.1" r="4" fill="#aedc31"/><circle cx="130.3" cy="752.7" r="4" fill="#21908c"/><circle cx="130.3" cy="754.5" r="4" fill="#21a386"/><circle cx="90.2" cy="757.5" r="4" fill="#7ad151"/><circle cx="107.3" cy="759.5" r="4" fill="#2db17d"/><circle cx="157" cy="749.2" r="4" fill="#21908c"/><circle cx="157" cy="753.4" r="4" fill="#45085b"/><circle cx="152.9" cy="763.6" r="4" fill="#2f6c8e"/><circle cx="157" cy="762.2" r="4" fill="#33b67a"/><circle cx="169" cy="754.2" r="4" fill="#33b67a"/><circle cx="181.1" cy="731.6" r="4" fill="#21908c"/><circle cx="215.6" cy="724" r="4" fill="#25848e"/><circle cx="217.7" cy="726.6" r="4" fill="#25848e"/><circle cx="229.4" cy="717.8" r="4" fill="#aedc31"/><circle cx="227.3" cy="720.5" r="4" fill="#33b67a"/><circle cx="223.8" cy="718.8" r="4" fill="#21908c"/><line x1="140.7" y1="711.7" x2="145.7" y2="711.7" stroke="#808080" stroke-opacity="0.55" stroke-width="0.9"/><line x1="115.5" y1="729.2" x2="120.5" y2="729.2" stroke="#808080" stroke-opacity="0.55" stroke-width="0.9"/><line x1="129.8" y1="737.4" x2="134.8" y2="737.4" stroke="#808080" stroke-opacity="0.55" stroke-width="0.9"/><line x1="139.1" y1="735.3" x2="144.1" y2="735.3" stroke="#808080" stroke-opacity="0.55" stroke-width="0.9"/><line x1="142.2" y1="738.8" x2="147.2" y2="738.8" stroke="#808080" stroke-opacity="0.55" stroke-width="0.9"/><line x1="148.3" y1="740.9" x2="153.3" y2="740.9" stroke="#808080" stroke-opacity="0.55" stroke-width="0.9"/><line x1="117.5" y1="742.1" x2="122.5" y2="742.1" stroke="#808080" stroke-opacity="0.55" stroke-width="0.9"/><line x1="112.8" y1="745.1" x2="117.8" y2="745.1" stroke="#808080" stroke-opacity="0.55" stroke-width="0.9"/><line x1="92.7" y1="736" x2="188.9" y2="736" stroke="#808080" stroke-opacity="0.6" stroke-width="1.1"/><line x1="106.6" y1="745.2" x2="124.1" y2="745.2" stroke="#808080" stroke-opacity="0.6" stroke-width="1.1"/><line x1="127.8" y1="752.7" x2="132.8" y2="752.7" stroke="#808080" stroke-opacity="0.55" stroke-width="0.9"/><line x1="127.8" y1="754.5" x2="132.8" y2="754.5" stroke="#808080" stroke-opacity="0.55" stroke-width="0.9"/><line x1="73.8" y1="757.5" x2="106.6" y2="757.5" stroke="#808080" stroke-opacity="0.6" stroke-width="1.1"/><line x1="104.8" y1="759.5" x2="109.8" y2="759.5" stroke="#808080" stroke-opacity="0.55" stroke-width="0.9"/><line x1="154.5" y1="749.2" x2="159.5" y2="749.2" stroke="#808080" stroke-opacity="0.55" stroke-width="0.9"/><line x1="154.5" y1="753.4" x2="159.5" y2="753.4" stroke="#808080" stroke-opacity="0.55" stroke-width="0.9"/><line x1="150.4" y1="763.6" x2="155.4" y2="763.6" stroke="#808080" stroke-opacity="0.55" stroke-width="0.9"/><line x1="154.5" y1="762.2" x2="159.5" y2="762.2" stroke="#808080" stroke-opacity="0.55" stroke-width="0.9"/><line x1="147.7" y1="753.8" x2="169" y2="753.8" stroke="#808080" stroke-opacity="0.6" stroke-width="1.1"/><line x1="166.5" y1="754.2" x2="171.5" y2="754.2" stroke="#808080" stroke-opacity="0.55" stroke-width="0.9"/><line x1="178.6" y1="731.6" x2="183.6" y2="731.6" stroke="#808080" stroke-opacity="0.55" stroke-width="0.9"/><line x1="213.1" y1="724" x2="218.1" y2="724" stroke="#808080" stroke-opacity="0.55" stroke-width="0.9"/><line x1="215.2" y1="726.6" x2="220.2" y2="726.6" stroke="#808080" stroke-opacity="0.55" stroke-width="0.9"/><line x1="226.9" y1="717.8" x2="231.9" y2="717.8" stroke="#808080" stroke-opacity="0.55" stroke-width="0.9"/><line x1="224.8" y1="720.5" x2="229.8" y2="720.5" stroke="#808080" stroke-opacity="0.55" stroke-width="0.9"/><line x1="221.3" y1="718.8" x2="226.3" y2="718.8" stroke="#808080" stroke-opacity="0.55" stroke-width="0.9"/><polygon points="58.4,781.8 63.1,780.07 67.8,778.34 72.5,776.61 77.2,774.87 81.9,773.13 86.6,771.39 91.3,769.65 96,767.9 100.7,766.14 105.4,764.37 110.1,762.6 114.8,760.81 119.5,759.01 124.2,757.18 128.9,755.33 133.6,753.45 138.3,751.51 143,749.52 147.7,747.45 152.4,745.28 157.1,743.02 161.8,740.67 166.5,738.24 171.2,735.76 175.9,733.22 180.6,730.63 185.3,728.02 190,725.37 194.7,722.71 199.4,720.03 204.1,717.34 208.8,714.63 213.5,711.92 218.2,709.2 222.9,706.48 227.6,703.75 232.3,701.02 237,698.28 241.7,695.54 246.4,692.8 246.4,712.8 241.7,714.61 237,716.42 232.3,718.23 227.6,720.05 222.9,721.87 218.2,723.7 213.5,725.53 208.8,727.37 204.1,729.21 199.4,731.07 194.7,732.94 190,734.83 185.3,736.73 180.6,738.67 175.9,740.63 171.2,742.64 166.5,744.71 161.8,746.83 157.1,749.03 152.4,751.32 147.7,753.7 143,756.18 138.3,758.74 133.6,761.35 128.9,764.02 124.2,766.72 119.5,769.44 114.8,772.19 110.1,774.95 105.4,777.73 100.7,780.51 96,783.3 91.3,786.1 86.6,788.91 81.9,791.72 77.2,794.53 72.5,797.34 67.8,800.16 63.1,802.98 58.4,805.8" fill="#cdcdd0" fill-opacity="0.45"/><line x1="58.4" y1="793.8" x2="246.4" y2="702.8" stroke="#000" stroke-width="1.3"/></g><rect x="54.3" y="693.1" width="52.4" height="21.4" rx="2.5" fill="#eaeaf2" stroke="#cfcfd6" stroke-width="0.9"/><text x="59.2" y="706.9" font-size="11.8"><tspan font-style="italic">ρ</tspan> = 0.45</text><rect x="544" y="1" width="10" height="838.5" fill="url(#cb)"/><line x1="554.2" y1="839.7" x2="558.4" y2="839.7" stroke="#262626" stroke-width="0.85"/><text x="561.3" y="843.9" font-size="10">2820</text><line x1="554.2" y1="747.51" x2="558.4" y2="747.51" stroke="#262626" stroke-width="0.85"/><text x="561.3" y="751.71" font-size="10">2920</text><line x1="554.2" y1="655.32" x2="558.4" y2="655.32" stroke="#262626" stroke-width="0.85"/><text x="561.3" y="659.52" font-size="10">3020</text><line x1="554.2" y1="563.13" x2="558.4" y2="563.13" stroke="#262626" stroke-width="0.85"/><text x="561.3" y="567.33" font-size="10">3120</text><line x1="554.2" y1="470.94" x2="558.4" y2="470.94" stroke="#262626" stroke-width="0.85"/><text x="561.3" y="475.14" font-size="10">3220</text><line x1="554.2" y1="378.75" x2="558.4" y2="378.75" stroke="#262626" stroke-width="0.85"/><text x="561.3" y="382.95" font-size="10">3320</text><line x1="554.2" y1="286.56" x2="558.4" y2="286.56" stroke="#262626" stroke-width="0.85"/><text x="561.3" y="290.76" font-size="10">3420</text><line x1="554.2" y1="194.37" x2="558.4" y2="194.37" stroke="#262626" stroke-width="0.85"/><text x="561.3" y="198.57" font-size="10">3520</text><line x1="554.2" y1="102.18" x2="558.4" y2="102.18" stroke="#262626" stroke-width="0.85"/><text x="561.3" y="106.38" font-size="10">3620</text><text x="235.8" y="860.9" font-size="15" font-style="italic" letter-spacing="0.45">log</text><text x="258.6" y="864.1" font-size="10.8">10</text><text x="275.5" y="860.9" font-size="14">L</text><text x="283.2" y="863" font-size="10.2" font-style="italic" letter-spacing="0.3">Hα</text><text x="297.8" y="860.9" font-size="14">/</text><text x="301.8" y="860.9" font-size="14">L</text><text x="309.6" y="863" font-size="10.2" font-style="italic" letter-spacing="0.4">bol</text><g transform="translate(13.2,0) rotate(-90)"><text x="-466.2" y="0" font-size="15" font-style="italic" letter-spacing="0.45">log</text><text x="-441.8" y="3.4" font-size="11.2">10</text><text x="-427" y="0" font-size="14">L</text><text x="-417.6" y="3.0" font-size="10.6" font-style="italic" letter-spacing="0.2">UV</text><text x="-405" y="0" font-size="13">/</text><text x="-400.3" y="0" font-size="14">L</text><text x="-390.4" y="3.0" font-size="10.4" font-style="italic" letter-spacing="0.2">BOL</text></g></svg>
</body></html>
